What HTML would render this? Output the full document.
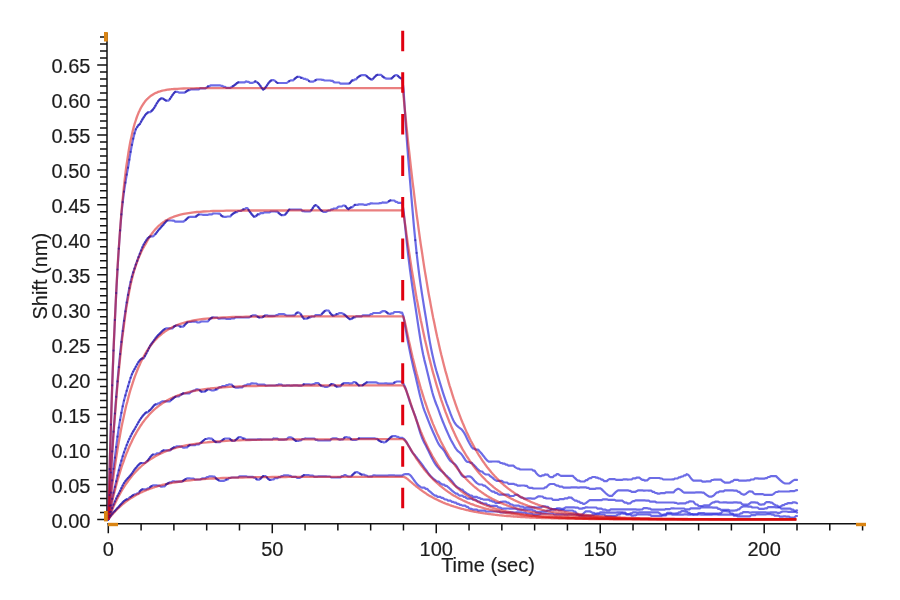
<!DOCTYPE html>
<html><head><meta charset="utf-8"><style>
html,body{margin:0;padding:0;background:#fff;width:900px;height:600px;overflow:hidden}
svg{display:block;filter:blur(0.4px)}
.d path{fill:none;stroke:rgba(45,45,220,0.7);stroke-width:2.2;stroke-linejoin:round;stroke-linecap:round}
.dots path{fill:none;stroke:rgba(20,10,150,0.55);stroke-width:2.2;stroke-linecap:round}
.f path{fill:none;stroke:rgba(215,10,10,0.52);stroke-width:2.3;stroke-linejoin:round}
.ax{fill:none;stroke:#111;stroke-width:1.5}
.lab text{font-family:"Liberation Sans",Arial,sans-serif;font-size:20px;fill:#1c1c1c;stroke:#1c1c1c;stroke-width:0.18px}
</style></head><body>
<svg width="900" height="600" viewBox="0 0 900 600">
<rect width="900" height="600" fill="#fff"/>
<path class="ax" d="M97.2,519.40H107 M100.0,512.41H107 M100.0,505.42H107 M100.0,498.43H107 M100.0,491.44H107 M97.2,484.45H107 M100.0,477.46H107 M100.0,470.47H107 M100.0,463.48H107 M100.0,456.49H107 M97.2,449.50H107 M100.0,442.51H107 M100.0,435.52H107 M100.0,428.53H107 M100.0,421.54H107 M97.2,414.55H107 M100.0,407.56H107 M100.0,400.57H107 M100.0,393.58H107 M100.0,386.59H107 M97.2,379.60H107 M100.0,372.61H107 M100.0,365.62H107 M100.0,358.63H107 M100.0,351.64H107 M97.2,344.65H107 M100.0,337.66H107 M100.0,330.67H107 M100.0,323.68H107 M100.0,316.69H107 M97.2,309.70H107 M100.0,302.71H107 M100.0,295.72H107 M100.0,288.73H107 M100.0,281.74H107 M97.2,274.75H107 M100.0,267.76H107 M100.0,260.77H107 M100.0,253.78H107 M100.0,246.79H107 M97.2,239.80H107 M100.0,232.81H107 M100.0,225.82H107 M100.0,218.83H107 M100.0,211.84H107 M97.2,204.85H107 M100.0,197.86H107 M100.0,190.87H107 M100.0,183.88H107 M100.0,176.89H107 M97.2,169.90H107 M100.0,162.91H107 M100.0,155.92H107 M100.0,148.93H107 M100.0,141.94H107 M97.2,134.95H107 M100.0,127.96H107 M100.0,120.97H107 M100.0,113.98H107 M100.0,106.99H107 M97.2,100.00H107 M100.0,93.01H107 M100.0,86.02H107 M100.0,79.03H107 M100.0,72.04H107 M97.2,65.05H107 M100.0,58.06H107 M100.0,51.07H107 M100.0,44.08H107 M100.0,37.09H107 M108.30,523.8V533.2 M141.09,523.8V530.6 M173.89,523.8V530.6 M206.69,523.8V530.6 M239.48,523.8V530.6 M272.27,523.8V533.2 M305.07,523.8V530.6 M337.87,523.8V530.6 M370.66,523.8V530.6 M403.46,523.8V530.6 M436.25,523.8V533.2 M469.05,523.8V530.6 M501.84,523.8V530.6 M534.63,523.8V530.6 M567.43,523.8V530.6 M600.23,523.8V533.2 M633.02,523.8V530.6 M665.81,523.8V530.6 M698.61,523.8V530.6 M731.40,523.8V530.6 M764.20,523.8V533.2 M797.00,523.8V530.6 M829.79,523.8V530.6 M862.58,523.8V530.6 M107,33V521 M107.3,523.8H857"/>
<g class="lab">
<text x="90.4" y="527.60" text-anchor="end">0.00</text>
<text x="90.4" y="492.65" text-anchor="end">0.05</text>
<text x="90.4" y="457.70" text-anchor="end">0.10</text>
<text x="90.4" y="422.75" text-anchor="end">0.15</text>
<text x="90.4" y="387.80" text-anchor="end">0.20</text>
<text x="90.4" y="352.85" text-anchor="end">0.25</text>
<text x="90.4" y="317.90" text-anchor="end">0.30</text>
<text x="90.4" y="282.95" text-anchor="end">0.35</text>
<text x="90.4" y="248.00" text-anchor="end">0.40</text>
<text x="90.4" y="213.05" text-anchor="end">0.45</text>
<text x="90.4" y="178.10" text-anchor="end">0.50</text>
<text x="90.4" y="143.15" text-anchor="end">0.55</text>
<text x="90.4" y="108.20" text-anchor="end">0.60</text>
<text x="90.4" y="73.25" text-anchor="end">0.65</text>
<text x="108.30" y="556.2" text-anchor="middle">0</text>
<text x="272.27" y="556.2" text-anchor="middle">50</text>
<text x="436.25" y="556.2" text-anchor="middle">100</text>
<text x="600.23" y="556.2" text-anchor="middle">150</text>
<text x="764.20" y="556.2" text-anchor="middle">200</text>
<text x="488" y="571.7" text-anchor="middle">Time (sec)</text>
<text transform="translate(46.7,276.2) rotate(-90)" text-anchor="middle">Shift (nm)</text>
</g>
<g class="d">
<path d="M108.3,519.4 L109.6,469.1 L110.9,424.6 L112.2,385.3 L113.5,350.6 L114.9,320.0 L116.2,293.1 L117.5,269.5 L118.8,248.7 L120.1,230.4 L121.4,214.4 L122.7,202.2 L124.0,191.7 L125.4,182.7 L126.7,174.7 L128.0,167.7 L129.3,159.7 L130.6,151.9 L131.9,144.9 L133.2,138.7 L134.5,133.4 L135.8,129.3 L137.2,127.0 L138.5,125.2 L139.8,124.1 L141.1,121.7 L142.4,119.4 L143.7,117.4 L145.0,115.4 L146.3,113.8 L147.7,112.6 L149.0,112.1 L150.3,112.1 L151.6,110.9 L152.9,109.6 L154.2,107.8 L155.5,105.7 L156.8,103.3 L158.1,101.3 L159.5,99.7 L160.8,98.7 L162.1,98.1 L163.4,98.9 L164.7,99.8 L166.0,100.6 L168.6,100.6 L170.0,98.8 L171.3,96.8 L172.6,94.9 L173.9,93.2 L175.2,91.8 L177.8,91.8 L179.1,92.7 L184.4,92.7 L185.7,91.9 L187.0,91.0 L188.3,90.2 L189.6,90.2 L190.9,89.3 L198.8,89.3 L200.1,88.4 L205.4,88.4 L206.7,87.5 L208.0,86.4 L209.3,86.4 L210.6,85.3 L219.8,85.3 L221.1,85.8 L222.4,85.8 L223.7,86.9 L225.1,86.9 L226.4,87.9 L230.3,87.9 L231.6,87.0 L232.9,86.2 L234.2,85.4 L235.5,84.4 L236.9,83.2 L238.2,82.4 L244.7,82.4 L246.0,81.4 L247.4,81.8 L248.7,81.8 L250.0,82.9 L252.6,82.9 L253.9,82.2 L255.2,81.4 L256.5,81.9 L257.8,82.8 L259.2,84.3 L260.5,86.1 L261.8,88.1 L263.1,89.6 L264.4,88.8 L265.7,87.2 L267.0,85.3 L268.3,83.4 L269.7,81.7 L271.0,80.6 L272.3,80.1 L273.6,80.1 L274.9,80.8 L276.2,82.0 L277.5,83.0 L286.7,83.0 L288.0,82.0 L289.3,81.1 L290.6,80.4 L293.3,80.4 L294.6,78.9 L295.9,77.8 L297.2,76.9 L299.8,76.9 L301.1,77.8 L302.4,77.8 L303.8,78.8 L305.1,78.8 L306.4,79.6 L307.7,79.6 L309.0,81.1 L310.3,81.7 L312.9,81.7 L314.3,81.0 L315.6,80.2 L316.9,79.5 L320.8,79.5 L322.1,79.9 L323.4,79.9 L324.7,80.5 L326.1,80.5 L330.0,80.5 L331.3,80.9 L332.6,80.9 L333.9,82.1 L335.2,82.5 L339.2,82.5 L340.5,83.7 L348.4,83.7 L349.7,83.2 L351.0,81.7 L352.3,80.4 L353.6,80.4 L354.9,79.3 L356.2,79.3 L357.5,77.6 L358.9,76.6 L360.2,75.8 L361.5,75.2 L365.4,75.2 L366.7,76.2 L368.0,77.3 L369.3,78.3 L370.7,79.2 L372.0,79.7 L373.3,78.5 L374.6,77.0 L375.9,75.7 L377.2,74.9 L381.2,74.9 L382.5,76.4 L383.8,77.3 L385.1,78.1 L386.4,78.6 L390.3,78.6 L391.6,78.4 L393.0,77.1 L394.3,75.9 L395.6,75.1 L396.9,75.1 L398.2,76.2 L399.5,77.4 L400.8,78.3 L402.1,78.7 L403.5,88.6 L404.8,109.6 L406.1,129.3 L407.4,147.6 L408.7,164.5 L410.0,180.4 L411.3,195.8 L412.6,211.2 L413.9,226.2 L415.3,240.2 L416.6,252.9 L417.9,264.2 L419.2,274.5 L420.5,283.9 L421.8,292.6 L423.1,300.9 L424.4,309.0 L425.8,317.2 L427.1,325.4 L428.4,333.5 L429.7,341.1 L431.0,348.0 L432.3,354.3 L433.6,360.1 L434.9,365.4 L436.2,370.3 L437.6,374.9 L438.9,379.2 L440.2,383.6 L441.5,387.9 L442.8,392.1 L444.1,396.1 L445.4,399.9 L446.7,403.6 L448.1,407.2 L449.4,410.7 L450.7,414.2 L452.0,417.4 L453.3,420.3 L454.6,422.7 L455.9,424.5 L457.2,425.9 L458.6,427.1 L459.9,428.1 L461.2,429.1 L462.5,430.5 L463.8,432.3 L465.1,434.6 L466.4,437.3 L467.7,439.9 L469.0,442.5 L470.4,445.0 L471.7,447.1 L473.0,448.6 L474.3,448.6 L475.6,449.7 L478.2,449.7 L479.5,451.3 L480.9,452.7 L482.2,454.3 L483.5,456.0 L484.8,457.7 L486.1,459.3 L487.4,460.7 L488.7,461.6 L491.3,461.6 L492.7,461.5 L496.6,461.5 L497.9,461.7 L499.2,461.7 L500.5,463.0 L501.8,463.0 L503.2,463.7 L504.5,463.7 L505.8,464.7 L507.1,464.7 L508.4,465.7 L513.6,465.7 L515.0,467.1 L516.3,467.9 L517.6,468.6 L518.9,468.6 L520.2,469.5 L532.0,469.5 L533.3,470.6 L534.6,470.6 L535.9,472.7 L537.3,474.2 L538.6,475.5 L539.9,476.1 L541.2,476.1 L542.5,475.3 L543.8,475.3 L545.1,474.4 L546.4,474.7 L547.8,474.7 L549.1,476.4 L550.4,477.1 L553.0,477.1 L554.3,475.5 L555.6,475.5 L556.9,474.1 L558.2,474.1 L559.6,475.1 L560.9,475.8 L572.7,475.8 L574.0,477.2 L575.3,478.4 L576.6,479.6 L577.9,480.6 L579.2,480.6 L580.5,481.5 L581.9,481.5 L584.5,481.5 L585.8,480.2 L587.1,480.2 L588.4,478.9 L589.7,478.2 L591.0,478.2 L592.4,477.0 L595.0,477.0 L596.3,477.7 L597.6,477.7 L598.9,478.5 L600.2,478.5 L601.5,479.7 L602.8,479.7 L604.2,481.1 L606.8,481.1 L608.1,479.9 L609.4,479.1 L614.7,479.1 L616.0,479.8 L622.5,479.8 L623.8,479.3 L626.5,479.3 L627.8,479.6 L629.1,479.5 L631.7,479.5 L633.0,478.3 L635.6,478.3 L637.0,477.5 L638.3,477.7 L639.6,477.7 L640.9,479.0 L642.2,479.8 L643.5,479.8 L644.8,480.6 L646.1,480.4 L647.4,480.4 L648.8,478.8 L650.1,478.0 L659.3,478.0 L660.6,478.5 L661.9,478.5 L663.2,479.5 L671.1,479.5 L672.4,479.4 L673.7,479.4 L675.0,478.5 L677.6,478.5 L678.9,477.3 L680.2,477.3 L681.6,476.5 L682.9,476.5 L684.2,475.3 L685.5,475.3 L686.8,474.2 L688.1,474.7 L689.4,476.1 L690.7,478.0 L692.1,479.6 L693.4,480.6 L701.2,480.6 L702.5,481.7 L705.2,481.7 L706.5,481.4 L710.4,481.4 L711.7,480.0 L713.0,480.0 L714.4,479.5 L715.7,479.6 L720.9,479.6 L722.2,480.9 L723.5,481.7 L724.8,482.6 L728.8,482.6 L730.1,482.4 L731.4,481.4 L732.7,481.4 L734.0,479.9 L738.0,479.9 L739.3,480.7 L745.8,480.7 L747.1,480.4 L749.8,480.4 L751.1,479.5 L753.7,479.5 L755.0,478.3 L757.6,478.3 L759.0,478.6 L764.2,478.6 L765.5,478.2 L766.8,478.2 L768.1,477.0 L769.4,477.0 L770.8,476.1 L776.0,476.1 L777.3,477.4 L778.6,478.6 L779.9,479.9 L781.3,481.1 L782.6,482.2 L783.9,482.9 L785.2,483.5 L789.1,483.5 L790.4,482.8 L791.7,481.6 L793.1,480.6 L794.4,479.9 L795.7,479.9 L797.0,479.9"/>
<path d="M108.3,519.4 L109.6,495.1 L110.9,472.5 L112.2,451.4 L113.5,431.7 L114.9,413.5 L116.2,396.8 L117.5,381.4 L118.8,367.2 L120.1,354.1 L121.4,341.9 L122.7,331.0 L124.0,320.8 L125.4,311.3 L126.7,302.5 L128.0,294.9 L129.3,288.2 L130.6,282.0 L131.9,276.8 L133.2,272.4 L134.5,268.5 L135.8,264.6 L137.2,260.9 L138.5,257.2 L139.8,253.8 L141.1,250.5 L142.4,247.3 L143.7,244.6 L145.0,242.3 L146.3,240.4 L147.7,238.4 L149.0,237.2 L150.3,236.4 L152.9,236.4 L154.2,235.3 L155.5,234.0 L156.8,232.3 L158.1,230.6 L159.5,229.0 L160.8,227.5 L162.1,226.1 L163.4,224.7 L164.7,223.0 L166.0,221.6 L167.3,220.5 L171.3,220.5 L172.6,220.6 L173.9,220.6 L175.2,221.7 L183.1,221.7 L184.4,221.0 L185.7,219.9 L187.0,218.7 L188.3,217.5 L189.6,216.9 L194.9,216.9 L196.2,216.4 L197.5,215.3 L198.8,214.5 L201.4,214.5 L202.7,214.8 L208.0,214.8 L209.3,214.4 L211.9,214.4 L213.2,213.5 L217.2,213.5 L218.5,213.7 L219.8,213.7 L221.1,215.4 L222.4,216.3 L223.7,216.8 L226.4,216.8 L227.7,216.5 L230.3,216.5 L231.6,214.8 L232.9,213.8 L234.2,213.0 L235.5,212.2 L236.9,212.2 L238.2,211.0 L240.8,211.0 L242.1,210.1 L243.4,209.3 L244.7,209.3 L246.0,208.1 L247.4,208.1 L248.7,210.2 L250.0,212.0 L251.3,213.7 L252.6,215.3 L253.9,216.6 L255.2,216.6 L256.5,215.7 L257.8,214.3 L259.2,214.3 L260.5,213.2 L263.1,213.2 L264.4,212.3 L269.7,212.3 L271.0,211.5 L274.9,211.5 L276.2,211.6 L277.5,211.6 L278.8,213.2 L280.1,214.2 L281.5,215.1 L284.1,215.1 L285.4,214.4 L286.7,212.8 L288.0,211.0 L289.3,209.5 L295.9,209.5 L297.2,209.5 L301.1,209.5 L302.4,211.1 L303.8,211.1 L305.1,211.5 L306.4,211.5 L307.7,211.5 L309.0,211.5 L310.3,211.4 L311.6,209.8 L312.9,207.9 L314.3,205.9 L315.6,205.2 L316.9,205.8 L318.2,207.0 L319.5,208.6 L320.8,210.1 L322.1,211.1 L323.4,211.8 L326.1,211.8 L327.4,211.0 L328.7,210.5 L330.0,210.5 L331.3,209.4 L332.6,209.4 L333.9,208.5 L336.6,208.5 L337.9,207.1 L339.2,206.5 L341.8,206.5 L343.1,205.5 L344.4,205.5 L345.7,206.4 L347.0,208.1 L348.4,209.2 L349.7,208.2 L351.0,207.3 L352.3,207.3 L353.6,205.9 L354.9,204.9 L357.5,204.9 L358.9,204.4 L362.8,204.4 L364.1,204.8 L366.7,204.8 L368.0,204.2 L369.3,204.2 L370.7,203.3 L372.0,203.3 L373.3,203.5 L378.5,203.5 L379.8,203.1 L381.2,203.1 L382.5,202.4 L383.8,202.6 L386.4,202.6 L387.7,202.2 L389.0,201.2 L390.3,200.4 L391.6,200.5 L394.3,200.5 L395.6,201.8 L396.9,201.8 L398.2,202.8 L402.1,202.8 L403.5,209.9 L404.8,223.2 L406.1,235.9 L407.4,248.1 L408.7,259.4 L410.0,269.8 L411.3,279.4 L412.6,288.3 L413.9,297.2 L415.3,306.0 L416.6,314.7 L417.9,323.4 L419.2,331.9 L420.5,340.1 L421.8,347.6 L423.1,354.2 L424.4,360.1 L425.8,365.5 L427.1,370.9 L428.4,376.2 L429.7,381.7 L431.0,387.1 L432.3,392.2 L433.6,396.7 L434.9,400.5 L436.2,404.0 L437.6,407.4 L438.9,411.0 L440.2,414.7 L441.5,418.2 L442.8,421.5 L444.1,424.7 L445.4,427.8 L446.7,430.8 L448.1,433.9 L449.4,436.7 L450.7,439.4 L452.0,441.9 L453.3,444.2 L454.6,446.6 L455.9,448.7 L457.2,450.4 L458.6,451.7 L459.9,452.7 L461.2,453.9 L462.5,455.6 L463.8,457.7 L465.1,459.7 L466.4,461.2 L467.7,462.0 L469.0,462.0 L470.4,462.8 L471.7,462.8 L473.0,464.2 L474.3,465.4 L475.6,466.8 L476.9,468.2 L478.2,469.5 L479.5,470.6 L480.9,471.5 L482.2,471.5 L483.5,473.1 L484.8,473.9 L486.1,474.5 L488.7,474.5 L490.0,476.0 L491.3,476.8 L492.7,477.9 L494.0,479.1 L495.3,480.1 L496.6,480.8 L501.8,480.8 L503.2,481.9 L504.5,482.5 L507.1,482.5 L508.4,483.8 L513.6,483.8 L515.0,484.6 L516.3,484.6 L517.6,485.6 L520.2,485.6 L521.5,485.5 L524.1,485.5 L525.5,485.8 L526.8,485.8 L528.1,487.2 L529.4,487.8 L532.0,487.8 L533.3,488.5 L534.6,488.5 L535.9,488.5 L543.8,488.5 L545.1,487.3 L546.4,487.3 L547.8,485.6 L549.1,484.6 L550.4,484.0 L554.3,484.0 L555.6,485.1 L556.9,485.7 L558.2,485.7 L559.6,486.7 L562.2,486.7 L563.5,487.6 L570.1,487.6 L571.4,487.4 L576.6,487.4 L577.9,487.6 L579.2,487.6 L580.5,487.3 L585.8,487.3 L587.1,487.9 L588.4,487.9 L589.7,488.9 L595.0,488.9 L596.3,488.3 L600.2,488.3 L601.5,489.1 L602.8,490.4 L604.2,491.7 L605.5,493.0 L606.8,494.2 L608.1,495.2 L609.4,495.9 L612.0,495.9 L613.3,494.5 L614.7,493.1 L616.0,491.8 L617.3,490.8 L618.6,490.3 L627.8,490.3 L629.1,490.8 L630.4,490.8 L631.7,491.8 L635.6,491.8 L637.0,490.9 L638.3,490.3 L642.2,490.3 L643.5,490.6 L644.8,490.6 L646.1,490.5 L647.4,490.5 L648.8,490.7 L651.4,490.7 L652.7,491.9 L654.0,491.9 L655.3,493.0 L656.6,493.0 L657.9,493.7 L659.3,493.7 L660.6,493.2 L664.5,493.2 L665.8,492.4 L673.7,492.4 L675.0,490.7 L676.3,489.7 L677.6,488.9 L678.9,488.9 L680.2,489.6 L681.6,490.7 L682.9,491.8 L684.2,492.7 L694.7,492.7 L696.0,492.3 L701.2,492.3 L702.5,492.7 L703.9,492.7 L705.2,494.0 L706.5,494.9 L707.8,495.8 L709.1,496.6 L711.7,496.6 L713.0,496.0 L714.4,494.8 L715.7,493.4 L717.0,492.4 L718.3,492.4 L719.6,491.4 L723.5,491.4 L724.8,490.3 L732.7,490.3 L734.0,490.6 L736.7,490.6 L738.0,491.8 L739.3,491.8 L740.6,493.2 L741.9,494.0 L743.2,494.6 L744.5,494.6 L745.8,494.0 L747.1,492.8 L748.5,491.8 L749.8,491.3 L751.1,491.6 L752.4,491.6 L753.7,493.4 L755.0,494.1 L762.9,494.1 L764.2,494.8 L772.1,494.8 L773.4,494.1 L774.7,493.0 L776.0,492.0 L777.3,492.0 L778.6,491.4 L779.9,491.5 L789.1,491.5 L790.4,491.1 L794.4,491.1 L795.7,490.4 L797.0,490.2"/>
<path d="M108.3,519.4 L109.6,505.7 L110.9,492.7 L112.2,480.4 L113.5,468.8 L114.9,457.7 L116.2,447.0 L117.5,436.7 L118.8,427.6 L120.1,419.9 L121.4,412.8 L122.7,406.3 L124.0,400.5 L125.4,395.4 L126.7,390.8 L128.0,386.4 L129.3,382.1 L130.6,377.8 L131.9,374.3 L133.2,371.6 L134.5,369.2 L135.8,366.8 L137.2,364.3 L138.5,362.0 L139.8,360.3 L141.1,359.1 L142.4,358.3 L143.7,358.3 L145.0,355.9 L146.3,353.5 L147.7,350.8 L149.0,348.1 L150.3,345.6 L151.6,343.6 L152.9,341.8 L154.2,340.1 L155.5,338.3 L156.8,336.7 L158.1,335.2 L159.5,333.9 L160.8,332.6 L162.1,331.3 L163.4,330.1 L164.7,329.1 L166.0,328.4 L172.6,328.4 L173.9,326.7 L175.2,325.9 L176.5,325.3 L177.8,325.3 L179.1,325.9 L180.4,326.7 L183.1,326.7 L184.4,325.4 L185.7,323.9 L187.0,322.7 L188.3,322.0 L190.9,322.0 L192.3,321.5 L193.6,321.6 L196.2,321.6 L197.5,322.5 L198.8,322.5 L200.1,322.1 L201.4,321.5 L208.0,321.5 L209.3,319.6 L210.6,318.5 L211.9,317.7 L213.2,317.4 L214.6,317.5 L217.2,317.5 L218.5,318.7 L219.8,318.7 L221.1,318.3 L225.1,318.3 L226.4,318.9 L230.3,318.9 L231.6,318.3 L234.2,318.3 L235.5,317.4 L240.8,317.4 L242.1,317.5 L248.7,317.5 L250.0,316.9 L251.3,316.1 L252.6,315.4 L255.2,315.4 L256.5,315.9 L257.8,316.8 L259.2,317.5 L261.8,317.5 L263.1,316.8 L264.4,315.9 L265.7,315.4 L267.0,315.4 L268.3,315.9 L274.9,315.9 L276.2,315.2 L277.5,315.2 L278.8,314.2 L284.1,314.2 L285.4,315.0 L286.7,315.5 L292.0,315.5 L293.3,315.3 L294.6,315.3 L295.9,313.6 L297.2,312.7 L298.5,312.4 L299.8,313.1 L301.1,314.7 L302.4,316.8 L303.8,318.6 L306.4,318.6 L307.7,318.2 L309.0,317.4 L310.3,317.4 L311.6,316.5 L314.3,316.5 L315.6,315.1 L320.8,315.1 L322.1,313.7 L323.4,312.4 L324.7,311.1 L326.1,310.4 L327.4,310.5 L328.7,310.5 L330.0,312.8 L331.3,314.3 L332.6,315.4 L333.9,315.7 L335.2,315.1 L336.6,314.2 L337.9,314.2 L339.2,313.1 L341.8,313.1 L343.1,313.8 L344.4,314.7 L345.7,315.7 L347.0,316.9 L348.4,318.2 L349.7,319.1 L351.0,319.1 L352.3,318.4 L353.6,317.3 L354.9,317.3 L356.2,316.3 L361.5,316.3 L362.8,315.3 L369.3,315.3 L370.7,314.2 L372.0,314.2 L373.3,313.0 L379.8,313.0 L381.2,312.0 L382.5,311.2 L385.1,311.2 L386.4,312.1 L387.7,313.2 L389.0,313.9 L390.3,313.9 L391.6,313.4 L393.0,313.4 L394.3,312.0 L399.5,312.0 L400.8,312.7 L402.1,312.7 L403.5,316.5 L404.8,324.2 L406.1,331.6 L407.4,338.7 L408.7,345.6 L410.0,352.1 L411.3,358.2 L412.6,364.0 L413.9,369.7 L415.3,375.3 L416.6,381.0 L417.9,386.6 L419.2,392.2 L420.5,397.5 L421.8,402.3 L423.1,406.8 L424.4,410.7 L425.8,414.2 L427.1,417.5 L428.4,420.8 L429.7,424.1 L431.0,427.3 L432.3,430.3 L433.6,433.2 L434.9,436.0 L436.2,439.0 L437.6,441.9 L438.9,444.4 L440.2,446.3 L441.5,447.7 L442.8,449.1 L444.1,450.8 L445.4,453.0 L446.7,455.4 L448.1,457.8 L449.4,459.7 L450.7,461.2 L452.0,462.2 L453.3,463.1 L454.6,464.0 L455.9,465.3 L457.2,467.2 L458.6,469.7 L459.9,472.2 L461.2,474.5 L462.5,476.0 L463.8,476.8 L466.4,476.8 L467.7,476.3 L469.0,476.3 L470.4,476.6 L471.7,477.6 L473.0,479.0 L474.3,480.5 L475.6,481.9 L476.9,483.1 L478.2,483.9 L479.5,484.5 L482.2,484.5 L483.5,485.6 L484.8,485.6 L486.1,486.8 L487.4,487.7 L488.7,488.9 L490.0,490.0 L491.3,491.0 L492.7,491.7 L494.0,491.7 L495.3,492.8 L496.6,492.8 L497.9,494.0 L499.2,494.6 L508.4,494.6 L509.7,496.0 L513.6,496.0 L515.0,494.9 L517.6,494.9 L518.9,496.0 L520.2,496.9 L521.5,497.7 L522.8,497.7 L524.1,498.6 L526.8,498.6 L528.1,498.4 L530.7,498.4 L532.0,498.6 L534.6,498.6 L535.9,497.9 L537.3,497.0 L538.6,496.3 L539.9,496.3 L541.2,496.5 L542.5,496.5 L543.8,497.8 L545.1,497.8 L546.4,498.5 L551.7,498.5 L553.0,499.9 L558.2,499.9 L559.6,499.2 L563.5,499.2 L564.8,498.4 L567.4,498.4 L568.7,497.4 L570.1,497.6 L571.4,497.6 L572.7,498.9 L574.0,499.9 L575.3,500.7 L576.6,500.7 L577.9,501.7 L579.2,501.7 L580.5,502.8 L581.9,502.8 L583.2,503.8 L584.5,503.8 L585.8,503.1 L587.1,502.1 L588.4,501.1 L589.7,500.2 L601.5,500.2 L602.8,499.4 L606.8,499.4 L608.1,499.8 L614.7,499.8 L616.0,500.7 L622.5,500.7 L623.8,502.0 L625.1,502.7 L626.5,502.7 L627.8,503.6 L629.1,503.4 L630.4,503.4 L631.7,501.9 L633.0,501.2 L634.3,501.2 L635.6,500.3 L644.8,500.3 L646.1,500.7 L648.8,500.7 L650.1,501.7 L655.3,501.7 L656.6,502.5 L665.8,502.5 L667.1,502.5 L673.7,502.5 L675.0,502.9 L676.3,502.9 L677.6,503.6 L678.9,503.6 L680.2,503.3 L685.5,503.3 L686.8,502.4 L688.1,502.4 L689.4,501.3 L690.7,501.3 L692.1,501.5 L693.4,501.5 L694.7,503.4 L696.0,504.5 L697.3,504.5 L698.6,506.0 L702.5,506.0 L703.9,505.4 L709.1,505.4 L710.4,504.2 L711.7,503.2 L713.0,502.3 L714.4,502.3 L715.7,501.5 L717.0,501.6 L718.3,501.6 L719.6,502.5 L722.2,502.5 L723.5,502.4 L726.2,502.4 L727.5,502.6 L732.7,502.6 L734.0,502.4 L736.7,502.4 L738.0,502.6 L740.6,502.6 L741.9,504.0 L743.2,504.6 L747.1,504.6 L748.5,504.4 L749.8,503.4 L751.1,502.4 L755.0,502.4 L756.3,502.7 L757.6,502.7 L759.0,504.1 L760.3,504.6 L761.6,504.6 L762.9,504.3 L764.2,504.3 L765.5,502.7 L766.8,502.1 L769.4,502.1 L770.8,502.7 L772.1,502.7 L773.4,503.9 L774.7,504.7 L776.0,505.7 L777.3,505.7 L778.6,506.8 L779.9,506.8 L781.3,506.0 L782.6,505.2 L783.9,505.2 L785.2,504.0 L786.5,504.0 L787.8,503.2 L791.7,503.2 L793.1,502.3 L794.4,502.3 L795.7,502.6 L797.0,503.2"/>
<path d="M108.3,519.4 L109.6,512.1 L110.9,505.3 L112.2,498.8 L113.5,492.7 L114.9,486.9 L116.2,481.3 L117.5,475.6 L118.8,470.3 L120.1,465.3 L121.4,460.7 L122.7,456.3 L124.0,452.3 L125.4,448.6 L126.7,445.1 L128.0,441.8 L129.3,439.0 L130.6,436.3 L131.9,433.7 L133.2,431.4 L134.5,429.3 L135.8,427.0 L137.2,424.5 L138.5,422.2 L139.8,420.0 L141.1,418.2 L142.4,416.4 L143.7,414.8 L145.0,413.4 L146.3,412.4 L147.7,412.4 L149.0,410.9 L150.3,409.9 L151.6,408.4 L152.9,406.8 L154.2,405.3 L155.5,404.3 L156.8,404.3 L158.1,403.4 L159.5,403.4 L160.8,402.1 L162.1,401.4 L170.0,401.4 L171.3,399.9 L172.6,398.9 L173.9,397.8 L175.2,396.9 L176.5,396.3 L179.1,396.3 L180.4,395.0 L181.8,394.2 L183.1,393.4 L189.6,393.4 L190.9,391.9 L192.3,391.2 L193.6,390.5 L194.9,390.5 L196.2,389.3 L197.5,389.3 L198.8,389.7 L200.1,390.7 L201.4,391.7 L204.1,391.7 L205.4,391.2 L206.7,390.2 L208.0,389.5 L209.3,389.5 L210.6,390.0 L211.9,390.5 L213.2,390.5 L214.6,390.1 L215.9,389.4 L217.2,389.4 L218.5,387.8 L219.8,387.2 L221.1,387.2 L222.4,386.1 L225.1,386.1 L226.4,385.1 L227.7,385.1 L229.0,384.4 L230.3,384.5 L231.6,384.5 L232.9,386.1 L234.2,387.0 L235.5,387.6 L238.2,387.6 L239.5,387.4 L242.1,387.4 L243.4,386.0 L244.7,385.4 L246.0,385.4 L247.4,384.4 L250.0,384.4 L251.3,383.3 L252.6,383.3 L253.9,383.5 L256.5,383.5 L257.8,384.6 L264.4,384.6 L265.7,385.5 L274.9,385.5 L276.2,385.2 L277.5,385.2 L278.8,384.4 L280.1,384.7 L281.5,384.7 L282.8,385.7 L285.4,385.7 L286.7,385.4 L289.3,385.4 L290.6,385.7 L292.0,385.7 L293.3,385.4 L297.2,385.4 L298.5,385.6 L301.1,385.6 L302.4,385.2 L303.8,384.3 L309.0,384.3 L310.3,384.6 L311.6,384.6 L312.9,384.2 L314.3,384.2 L315.6,383.1 L318.2,383.1 L319.5,384.5 L320.8,385.5 L322.1,386.1 L323.4,386.1 L324.7,386.8 L327.4,386.8 L328.7,386.3 L330.0,385.1 L331.3,384.1 L332.6,384.1 L333.9,384.6 L335.2,385.7 L336.6,386.6 L337.9,386.6 L339.2,386.4 L340.5,386.4 L341.8,384.5 L343.1,383.7 L344.4,383.1 L348.4,383.1 L349.7,383.6 L351.0,383.3 L352.3,383.3 L353.6,382.1 L354.9,382.1 L356.2,382.9 L357.5,384.2 L358.9,385.5 L361.5,385.5 L362.8,385.2 L364.1,384.2 L365.4,383.3 L366.7,382.4 L375.9,382.4 L377.2,382.8 L378.5,383.5 L383.8,383.5 L385.1,383.4 L386.4,383.4 L387.7,383.6 L393.0,383.6 L394.3,382.7 L395.6,382.0 L396.9,381.5 L399.5,381.5 L400.8,381.6 L402.1,381.6 L403.5,384.1 L404.8,386.5 L406.1,390.0 L407.4,394.0 L408.7,398.2 L410.0,402.3 L411.3,406.0 L412.6,409.4 L413.9,412.8 L415.3,416.4 L416.6,420.4 L417.9,424.9 L419.2,429.4 L420.5,433.6 L421.8,437.2 L423.1,440.2 L424.4,443.0 L425.8,445.6 L427.1,448.2 L428.4,450.8 L429.7,453.5 L431.0,456.2 L432.3,458.8 L433.6,461.2 L434.9,463.4 L436.2,465.3 L437.6,467.1 L438.9,468.6 L440.2,469.9 L441.5,471.1 L442.8,472.2 L444.1,473.4 L445.4,474.7 L446.7,475.9 L448.1,477.2 L449.4,478.4 L450.7,479.7 L452.0,481.2 L453.3,482.9 L454.6,484.6 L455.9,486.1 L457.2,487.2 L458.6,488.0 L459.9,488.8 L461.2,489.6 L462.5,489.6 L463.8,491.4 L465.1,492.2 L466.4,493.1 L467.7,493.9 L469.0,494.7 L470.4,495.6 L471.7,495.6 L473.0,496.9 L476.9,496.9 L478.2,497.8 L479.5,497.8 L480.9,498.9 L482.2,498.9 L483.5,499.6 L488.7,499.6 L490.0,500.7 L491.3,500.7 L492.7,501.6 L494.0,501.6 L495.3,502.8 L499.2,502.8 L500.5,501.9 L501.8,501.9 L503.2,501.5 L504.5,501.7 L505.8,501.7 L507.1,502.6 L508.4,502.6 L509.7,503.8 L511.0,504.5 L512.3,504.5 L513.6,505.6 L518.9,505.6 L520.2,506.6 L522.8,506.6 L524.1,507.6 L525.5,507.6 L526.8,507.3 L534.6,507.3 L535.9,507.5 L537.3,507.5 L538.6,507.4 L541.2,507.4 L542.5,506.4 L545.1,506.4 L546.4,506.8 L547.8,506.8 L549.1,508.1 L550.4,508.9 L551.7,508.9 L553.0,509.6 L554.3,509.4 L555.6,509.4 L556.9,508.3 L559.6,508.3 L560.9,508.8 L563.5,508.8 L564.8,508.0 L566.1,507.3 L574.0,507.3 L575.3,507.6 L577.9,507.6 L579.2,508.6 L581.9,508.6 L583.2,508.1 L584.5,508.1 L585.8,507.3 L587.1,507.3 L588.4,507.5 L596.3,507.5 L597.6,508.7 L601.5,508.7 L602.8,509.6 L605.5,509.6 L606.8,510.5 L608.1,510.4 L609.4,510.4 L610.7,509.4 L635.6,509.4 L637.0,509.6 L639.6,509.6 L640.9,509.5 L642.2,509.5 L643.5,508.2 L647.4,508.2 L648.8,508.6 L650.1,508.6 L651.4,509.7 L664.5,509.7 L665.8,509.1 L669.8,509.1 L671.1,508.4 L673.7,508.4 L675.0,508.5 L684.2,508.5 L685.5,509.6 L686.8,509.4 L689.4,509.4 L690.7,508.3 L699.9,508.3 L701.2,507.4 L711.7,507.4 L713.0,507.6 L717.0,507.6 L718.3,508.9 L719.6,508.9 L720.9,509.9 L728.8,509.9 L730.1,510.7 L734.0,510.7 L735.3,510.4 L736.7,510.4 L738.0,509.4 L739.3,509.4 L740.6,507.7 L741.9,506.9 L743.2,506.4 L747.1,506.4 L748.5,506.7 L751.1,506.7 L752.4,507.5 L757.6,507.5 L759.0,508.8 L764.2,508.8 L765.5,508.3 L766.8,508.3 L768.1,507.2 L774.7,507.2 L776.0,507.5 L779.9,507.5 L781.3,508.6 L790.4,508.6 L791.7,509.7 L793.1,509.7 L794.4,510.8 L795.7,510.8 L797.0,510.3"/>
<path d="M108.3,519.4 L109.6,515.6 L110.9,511.8 L112.2,508.2 L113.5,504.7 L114.9,501.5 L116.2,498.6 L117.5,495.9 L118.8,493.5 L120.1,490.9 L121.4,488.2 L122.7,485.5 L124.0,483.1 L125.4,481.1 L126.7,479.5 L128.0,478.0 L129.3,476.7 L130.6,475.2 L131.9,473.5 L133.2,471.6 L134.5,469.7 L135.8,468.0 L137.2,466.4 L138.5,464.9 L139.8,463.7 L141.1,463.0 L145.0,463.0 L146.3,461.8 L147.7,460.5 L149.0,458.8 L150.3,457.1 L151.6,455.6 L152.9,454.5 L155.5,454.5 L156.8,453.4 L159.5,453.4 L160.8,452.0 L162.1,451.1 L163.4,450.4 L170.0,450.4 L171.3,449.1 L172.6,448.2 L173.9,447.4 L175.2,447.4 L176.5,446.3 L179.1,446.3 L180.4,446.6 L181.8,446.6 L183.1,447.6 L184.4,447.6 L185.7,447.4 L187.0,447.4 L188.3,446.0 L189.6,445.2 L194.9,445.2 L196.2,444.4 L198.8,444.4 L200.1,443.2 L201.4,442.4 L202.7,441.2 L204.1,440.0 L205.4,439.0 L206.7,439.0 L208.0,438.4 L209.3,438.4 L210.6,438.6 L211.9,438.6 L213.2,440.2 L214.6,441.3 L215.9,442.1 L219.8,442.1 L221.1,440.9 L222.4,440.1 L223.7,439.2 L225.1,438.5 L229.0,438.5 L230.3,439.3 L231.6,440.3 L232.9,441.0 L234.2,441.0 L235.5,440.1 L236.9,438.9 L238.2,437.7 L239.5,437.1 L240.8,437.1 L242.1,437.9 L243.4,438.7 L244.7,438.7 L246.0,439.7 L256.5,439.7 L257.8,439.3 L260.5,439.3 L261.8,439.6 L263.1,439.5 L272.3,439.5 L273.6,438.4 L274.9,438.7 L277.5,438.7 L278.8,439.6 L284.1,439.6 L285.4,439.3 L286.7,439.3 L288.0,437.9 L289.3,437.4 L290.6,437.4 L292.0,437.9 L293.3,438.9 L294.6,440.0 L295.9,440.9 L298.5,440.9 L299.8,440.3 L301.1,440.3 L302.4,439.0 L303.8,439.0 L305.1,438.4 L306.4,438.5 L314.3,438.5 L315.6,439.8 L316.9,439.8 L318.2,440.5 L323.4,440.5 L324.7,440.4 L330.0,440.4 L331.3,439.0 L332.6,438.4 L336.6,438.4 L337.9,439.0 L339.2,439.6 L340.5,439.6 L341.8,439.3 L343.1,439.3 L344.4,437.7 L345.7,437.2 L347.0,437.2 L348.4,437.7 L349.7,437.7 L351.0,439.2 L352.3,439.8 L356.2,439.8 L357.5,439.2 L358.9,438.4 L374.6,438.4 L375.9,438.8 L377.2,438.8 L378.5,440.2 L379.8,441.0 L381.2,441.8 L382.5,441.8 L383.8,442.5 L385.1,442.2 L386.4,441.3 L387.7,440.2 L389.0,438.9 L390.3,437.7 L391.6,436.7 L393.0,436.1 L395.6,436.1 L396.9,436.8 L398.2,436.8 L399.5,437.8 L402.1,437.8 L403.5,438.6 L404.8,439.8 L406.1,441.6 L407.4,443.7 L408.7,446.0 L410.0,448.3 L411.3,450.6 L412.6,452.6 L413.9,454.2 L415.3,455.8 L416.6,457.5 L417.9,459.2 L419.2,460.8 L420.5,462.5 L421.8,464.2 L423.1,466.0 L424.4,467.8 L425.8,469.7 L427.1,471.5 L428.4,473.4 L429.7,475.0 L431.0,476.5 L432.3,477.7 L433.6,478.9 L434.9,479.9 L436.2,480.9 L437.6,481.7 L438.9,481.7 L440.2,483.3 L441.5,484.0 L442.8,484.7 L444.1,484.7 L445.4,485.8 L446.7,485.8 L448.1,487.2 L449.4,488.2 L450.7,489.4 L452.0,490.6 L453.3,491.7 L454.6,492.7 L455.9,493.6 L457.2,493.6 L458.6,495.1 L459.9,495.7 L462.5,495.7 L463.8,496.9 L465.1,496.9 L466.4,498.1 L467.7,498.7 L471.7,498.7 L473.0,499.7 L475.6,499.7 L476.9,500.8 L478.2,501.5 L479.5,501.5 L480.9,502.9 L482.2,502.9 L483.5,503.6 L486.1,503.6 L487.4,505.0 L488.7,505.0 L490.0,505.8 L496.6,505.8 L497.9,507.0 L499.2,507.6 L500.5,507.6 L501.8,508.7 L505.8,508.7 L507.1,508.5 L508.4,508.5 L509.7,508.6 L516.3,508.6 L517.6,509.6 L532.0,509.6 L533.3,510.7 L534.6,510.7 L535.9,511.8 L541.2,511.8 L542.5,511.3 L546.4,511.3 L547.8,510.5 L550.4,510.5 L551.7,509.1 L556.9,509.1 L558.2,509.8 L563.5,509.8 L564.8,510.5 L572.7,510.5 L574.0,511.6 L575.3,511.6 L576.6,513.3 L577.9,514.2 L579.2,514.9 L581.9,514.9 L583.2,513.7 L584.5,512.5 L585.8,511.4 L589.7,511.4 L591.0,511.9 L592.4,512.8 L593.7,512.8 L595.0,513.6 L596.3,513.6 L597.6,513.3 L598.9,513.3 L600.2,512.4 L604.2,512.4 L605.5,512.6 L616.0,512.6 L617.3,512.4 L622.5,512.4 L623.8,512.6 L625.1,512.6 L626.5,514.1 L629.1,514.1 L630.4,513.4 L631.7,513.4 L633.0,512.4 L635.6,512.4 L637.0,512.6 L638.3,512.6 L639.6,512.3 L657.9,512.3 L659.3,513.1 L660.6,514.1 L661.9,514.8 L663.2,514.8 L664.5,514.4 L665.8,514.4 L667.1,512.9 L671.1,512.9 L672.4,513.5 L675.0,513.5 L676.3,513.4 L677.6,513.4 L678.9,512.3 L680.2,512.3 L681.6,511.2 L684.2,511.2 L685.5,511.6 L686.8,511.6 L688.1,512.8 L689.4,512.8 L690.7,514.0 L692.1,514.0 L693.4,514.7 L694.7,514.5 L697.3,514.5 L698.6,513.0 L703.9,513.0 L705.2,513.7 L718.3,513.7 L719.6,513.4 L720.9,513.4 L722.2,511.7 L723.5,511.1 L726.2,511.1 L727.5,511.5 L728.8,511.5 L730.1,512.8 L731.4,513.7 L732.7,513.7 L734.0,514.7 L735.3,514.7 L736.7,514.5 L739.3,514.5 L740.6,513.3 L741.9,513.3 L743.2,512.2 L748.5,512.2 L749.8,512.6 L751.1,512.6 L752.4,512.3 L765.5,512.3 L766.8,512.5 L769.4,512.5 L770.8,512.3 L776.0,512.3 L777.3,512.8 L779.9,512.8 L781.3,512.1 L782.6,511.5 L786.5,511.5 L787.8,511.8 L795.7,511.8 L797.0,512.5"/>
<path d="M108.3,519.4 L109.6,517.5 L110.9,515.6 L112.2,513.9 L113.5,512.3 L114.9,510.9 L116.2,509.5 L117.5,508.1 L118.8,506.7 L120.1,505.2 L121.4,503.8 L122.7,502.4 L124.0,501.1 L125.4,500.1 L126.7,499.3 L128.0,499.3 L129.3,497.8 L130.6,497.0 L131.9,496.0 L133.2,495.1 L134.5,494.4 L135.8,494.4 L137.2,493.4 L138.5,493.4 L139.8,491.3 L141.1,490.1 L142.4,489.3 L146.3,489.3 L147.7,488.3 L149.0,488.3 L150.3,486.9 L151.6,486.1 L152.9,485.4 L156.8,485.4 L158.1,485.7 L159.5,485.7 L160.8,486.6 L162.1,486.6 L163.4,486.3 L164.7,486.3 L166.0,484.6 L167.3,483.8 L168.6,483.0 L170.0,482.3 L171.3,482.3 L172.6,481.3 L173.9,481.3 L175.2,481.6 L181.8,481.6 L183.1,480.8 L184.4,479.9 L185.7,479.1 L187.0,478.4 L189.6,478.4 L190.9,478.5 L193.6,478.5 L194.9,479.5 L200.1,479.5 L201.4,478.9 L202.7,478.4 L205.4,478.4 L206.7,477.2 L208.0,477.2 L209.3,476.3 L211.9,476.3 L213.2,476.6 L214.6,476.6 L215.9,478.3 L217.2,479.3 L218.5,480.2 L219.8,480.9 L223.7,480.9 L225.1,480.3 L226.4,479.5 L227.7,479.5 L229.0,478.0 L230.3,478.0 L231.6,477.5 L238.2,477.5 L239.5,476.3 L246.0,476.3 L247.4,476.8 L252.6,476.8 L253.9,477.6 L255.2,477.6 L256.5,479.2 L257.8,479.7 L259.2,479.7 L260.5,478.7 L261.8,477.3 L263.1,476.2 L265.7,476.2 L267.0,477.5 L268.3,479.0 L269.7,479.9 L271.0,479.9 L272.3,479.5 L273.6,479.5 L274.9,478.1 L277.5,478.1 L278.8,477.2 L280.1,477.2 L281.5,476.1 L282.8,476.1 L284.1,475.3 L288.0,475.3 L289.3,475.8 L290.6,475.8 L292.0,476.8 L295.9,476.8 L297.2,477.8 L299.8,477.8 L301.1,477.0 L302.4,476.1 L303.8,475.2 L309.0,475.2 L310.3,475.6 L312.9,475.6 L314.3,476.7 L316.9,476.7 L318.2,476.4 L326.1,476.4 L327.4,476.5 L330.0,476.5 L331.3,477.5 L336.6,477.5 L337.9,477.3 L340.5,477.3 L341.8,476.2 L343.1,476.2 L344.4,475.2 L345.7,475.2 L347.0,475.9 L348.4,476.5 L349.7,476.5 L351.0,476.3 L352.3,475.2 L353.6,473.8 L354.9,472.7 L356.2,472.2 L357.5,472.2 L358.9,472.9 L360.2,473.8 L361.5,474.6 L364.1,474.6 L365.4,475.5 L366.7,475.5 L368.0,476.5 L369.3,476.5 L370.7,476.3 L372.0,476.3 L373.3,475.3 L374.6,475.3 L375.9,475.6 L387.7,475.6 L389.0,475.4 L394.3,475.4 L395.6,475.7 L402.1,475.7 L403.5,474.6 L404.8,474.2 L408.7,474.2 L410.0,474.9 L411.3,476.3 L412.6,478.1 L413.9,480.0 L415.3,481.9 L416.6,483.5 L417.9,484.9 L419.2,486.0 L420.5,486.9 L421.8,487.6 L424.4,487.6 L425.8,488.8 L427.1,488.8 L428.4,490.3 L429.7,491.3 L431.0,492.4 L432.3,493.6 L433.6,494.7 L434.9,495.6 L436.2,495.6 L437.6,496.9 L440.2,496.9 L441.5,497.8 L442.8,497.8 L444.1,498.9 L445.4,499.5 L446.7,499.5 L448.1,500.7 L450.7,500.7 L452.0,501.9 L453.3,501.9 L454.6,502.7 L455.9,502.7 L457.2,503.8 L458.6,503.8 L459.9,504.9 L461.2,504.9 L462.5,505.6 L465.1,505.6 L466.4,506.8 L467.7,506.8 L469.0,508.2 L470.4,508.8 L471.7,508.8 L473.0,509.7 L476.9,509.7 L478.2,510.6 L484.8,510.6 L486.1,511.5 L490.0,511.5 L491.3,511.5 L496.6,511.5 L497.9,511.6 L499.2,511.6 L500.5,512.5 L503.2,512.5 L504.5,512.3 L512.3,512.3 L513.6,512.5 L515.0,512.5 L516.3,512.4 L521.5,512.4 L522.8,512.7 L525.5,512.7 L526.8,513.5 L528.1,513.5 L529.4,513.5 L530.7,513.7 L532.0,513.7 L533.3,514.6 L537.3,514.6 L538.6,514.3 L539.9,514.3 L541.2,513.5 L547.8,513.5 L549.1,513.5 L553.0,513.5 L554.3,514.5 L555.6,514.4 L563.5,514.4 L564.8,514.6 L567.4,514.6 L568.7,514.3 L575.3,514.3 L576.6,514.9 L577.9,514.9 L579.2,515.6 L591.0,515.6 L592.4,515.2 L593.7,515.2 L595.0,514.3 L600.2,514.3 L601.5,514.5 L604.2,514.5 L605.5,515.8 L616.0,515.8 L617.3,515.0 L618.6,514.3 L619.9,514.3 L621.2,513.4 L622.5,513.4 L623.8,513.7 L625.1,513.7 L626.5,514.5 L630.4,514.5 L631.7,515.6 L633.0,515.6 L634.3,515.4 L635.6,515.4 L637.0,514.5 L647.4,514.5 L648.8,514.7 L650.1,514.7 L651.4,515.8 L661.9,515.8 L663.2,515.4 L665.8,515.4 L667.1,514.1 L671.1,514.1 L672.4,514.7 L682.9,514.7 L684.2,514.4 L686.8,514.4 L688.1,514.6 L690.7,514.6 L692.1,514.4 L699.9,514.4 L701.2,514.6 L711.7,514.6 L713.0,514.4 L717.0,514.4 L718.3,514.6 L732.7,514.6 L734.0,515.7 L736.7,515.7 L738.0,516.5 L739.3,516.4 L749.8,516.4 L751.1,515.2 L755.0,515.2 L756.3,514.4 L759.0,514.4 L760.3,514.5 L765.5,514.5 L766.8,514.2 L770.8,514.2 L772.1,514.6 L773.4,514.6 L774.7,515.6 L778.6,515.6 L779.9,516.6 L782.6,516.6 L783.9,516.4 L785.2,516.4 L786.5,516.7 L789.1,516.7 L790.4,517.6 L791.7,517.5 L794.4,517.5 L795.7,516.2 L797.0,516.0"/>
</g>

<g class="f">
<path d="M108.3,519.4 L109.1,487.2 L109.9,457.5 L110.8,429.9 L111.6,404.4 L112.4,380.9 L113.2,359.0 L114.0,338.8 L114.9,320.1 L115.7,302.8 L116.5,286.8 L117.3,272.0 L118.1,258.3 L119.0,245.6 L119.8,233.8 L120.6,223.0 L121.4,212.9 L122.2,203.6 L123.1,195.0 L123.9,187.0 L124.7,179.7 L125.5,172.8 L126.3,166.5 L127.2,160.7 L128.0,155.3 L128.8,150.2 L129.6,145.6 L130.4,141.3 L131.3,137.4 L132.1,133.7 L132.9,130.3 L133.7,127.1 L134.5,124.2 L135.4,121.5 L136.2,119.0 L137.0,116.7 L137.8,114.6 L138.6,112.6 L139.5,110.8 L140.3,109.1 L141.1,107.5 L141.9,106.1 L142.7,104.8 L143.6,103.5 L144.4,102.4 L145.2,101.3 L146.0,100.3 L146.8,99.4 L147.7,98.6 L148.5,97.8 L149.3,97.1 L150.1,96.4 L150.9,95.8 L151.8,95.2 L152.6,94.7 L153.4,94.2 L154.2,93.7 L155.0,93.3 L155.9,92.9 L156.7,92.6 L157.5,92.2 L158.3,91.9 L159.1,91.6 L160.0,91.4 L160.8,91.1 L161.6,90.9 L162.4,90.7 L163.2,90.5 L164.1,90.3 L164.9,90.2 L165.7,90.0 L166.5,89.9 L167.3,89.7 L168.2,89.6 L169.0,89.5 L169.8,89.4 L170.6,89.3 L171.4,89.2 L172.3,89.1 L173.1,89.1 L173.9,89.0 L177.2,88.8 L180.4,88.6 L183.7,88.5 L187.0,88.4 L190.3,88.3 L193.6,88.3 L196.8,88.2 L200.1,88.2 L203.4,88.2 L206.7,88.2 L210.0,88.1 L213.2,88.1 L216.5,88.1 L219.8,88.1 L223.1,88.1 L226.4,88.1 L229.6,88.1 L232.9,88.1 L236.2,88.1 L239.5,88.1 L242.8,88.1 L246.0,88.1 L249.3,88.1 L252.6,88.1 L255.9,88.1 L259.2,88.1 L262.4,88.1 L265.7,88.1 L269.0,88.1 L272.3,88.1 L275.6,88.1 L278.8,88.1 L282.1,88.1 L285.4,88.1 L288.7,88.1 L292.0,88.1 L295.2,88.1 L298.5,88.1 L301.8,88.1 L305.1,88.1 L308.3,88.1 L311.6,88.1 L314.9,88.1 L318.2,88.1 L321.5,88.1 L324.7,88.1 L328.0,88.1 L331.3,88.1 L334.6,88.1 L337.9,88.1 L341.1,88.1 L344.4,88.1 L347.7,88.1 L351.0,88.1 L354.3,88.1 L357.5,88.1 L360.8,88.1 L364.1,88.1 L367.4,88.1 L370.7,88.1 L373.9,88.1 L377.2,88.1 L380.5,88.1 L383.8,88.1 L387.1,88.1 L390.3,88.1 L393.6,88.1 L396.9,88.1 L400.2,88.1 L402.8,88.1 L403.6,96.9 L404.4,105.4 L405.3,113.8 L406.1,122.1 L406.9,130.1 L407.7,138.0 L408.5,145.8 L409.4,153.4 L410.2,160.8 L411.0,168.1 L411.8,175.2 L412.6,182.2 L413.5,189.0 L414.3,195.7 L415.1,202.3 L415.9,208.7 L416.7,215.0 L417.6,221.2 L418.4,227.3 L419.2,233.2 L420.0,239.0 L420.8,244.7 L421.7,250.3 L422.5,255.7 L423.3,261.1 L424.1,266.3 L424.9,271.4 L425.8,276.5 L426.6,281.4 L427.4,286.2 L428.2,291.0 L429.0,295.6 L429.9,300.1 L430.7,304.6 L431.5,308.9 L432.3,313.2 L433.1,317.4 L434.0,321.5 L434.8,325.5 L435.6,329.4 L436.4,333.3 L437.2,337.1 L438.1,340.8 L438.9,344.4 L439.7,348.0 L440.5,351.4 L441.3,354.8 L442.2,358.2 L443.0,361.5 L443.8,364.7 L444.6,367.8 L445.4,370.9 L446.3,373.9 L447.1,376.8 L447.9,379.7 L448.7,382.6 L449.5,385.3 L450.4,388.1 L451.2,390.7 L452.0,393.3 L452.8,395.9 L453.6,398.4 L454.5,400.9 L455.3,403.3 L456.1,405.6 L456.9,407.9 L457.7,410.2 L458.6,412.4 L459.4,414.6 L460.2,416.7 L461.0,418.8 L461.8,420.8 L462.6,422.8 L463.5,424.8 L464.3,426.7 L465.1,428.6 L465.9,430.4 L466.7,432.2 L467.6,434.0 L468.4,435.7 L469.2,437.4 L470.0,439.1 L470.8,440.7 L471.7,442.3 L472.5,443.9 L473.3,445.4 L474.1,446.9 L474.9,448.4 L475.8,449.8 L476.6,451.2 L477.4,452.6 L478.2,454.0 L479.0,455.3 L479.9,456.6 L480.7,457.9 L481.5,459.1 L482.3,460.4 L483.1,461.6 L484.0,462.7 L484.8,463.9 L485.6,465.0 L486.4,466.1 L487.2,467.2 L488.1,468.2 L488.9,469.3 L489.7,470.3 L490.5,471.3 L491.3,472.3 L492.2,473.2 L493.0,474.2 L493.8,475.1 L494.6,476.0 L495.4,476.9 L496.3,477.7 L497.1,478.6 L497.9,479.4 L498.7,480.2 L499.5,481.0 L500.4,481.8 L501.2,482.6 L502.0,483.3 L502.8,484.0 L503.6,484.8 L504.5,485.5 L505.3,486.1 L506.1,486.8 L506.9,487.5 L507.7,488.1 L508.6,488.8 L509.4,489.4 L510.2,490.0 L511.0,490.6 L511.8,491.2 L512.7,491.7 L513.5,492.3 L514.3,492.9 L515.1,493.4 L515.9,493.9 L516.8,494.4 L517.6,494.9 L518.4,495.4 L519.2,495.9 L520.0,496.4 L520.9,496.9 L521.7,497.3 L522.5,497.8 L523.3,498.2 L524.1,498.6 L525.0,499.1 L525.8,499.5 L526.6,499.9 L527.4,500.3 L528.2,500.7 L529.1,501.0 L529.9,501.4 L530.7,501.8 L531.5,502.1 L532.3,502.5 L533.2,502.8 L534.0,503.2 L534.8,503.5 L535.6,503.8 L536.4,504.1 L537.3,504.4 L538.1,504.8 L538.9,505.0 L539.7,505.3 L540.5,505.6 L541.4,505.9 L542.2,506.2 L543.0,506.4 L543.8,506.7 L544.6,507.0 L545.5,507.2 L546.3,507.5 L547.1,507.7 L547.9,507.9 L548.7,508.2 L549.6,508.4 L550.4,508.6 L551.2,508.8 L552.0,509.1 L552.8,509.3 L553.7,509.5 L554.5,509.7 L555.3,509.9 L556.1,510.1 L556.9,510.3 L557.8,510.4 L558.6,510.6 L559.4,510.8 L560.2,511.0 L561.0,511.1 L561.9,511.3 L562.7,511.5 L563.5,511.6 L564.3,511.8 L565.1,512.0 L566.0,512.1 L566.8,512.3 L567.6,512.4 L568.4,512.5 L569.2,512.7 L570.1,512.8 L570.9,512.9 L571.7,513.1 L572.5,513.2 L573.3,513.3 L574.2,513.5 L575.0,513.6 L575.8,513.7 L576.6,513.8 L577.4,513.9 L578.3,514.0 L579.1,514.1 L579.9,514.3 L580.7,514.4 L581.5,514.5 L582.4,514.6 L583.2,514.7 L584.0,514.8 L584.8,514.8 L585.6,514.9 L586.5,515.0 L587.3,515.1 L588.1,515.2 L588.9,515.3 L589.7,515.4 L590.6,515.5 L591.4,515.5 L592.2,515.6 L593.0,515.7 L593.8,515.8 L594.6,515.8 L595.5,515.9 L596.3,516.0 L597.1,516.1 L597.9,516.1 L598.7,516.2 L599.6,516.3 L600.4,516.3 L601.2,516.4 L602.0,516.4 L602.8,516.5 L603.7,516.6 L604.5,516.6 L605.3,516.7 L606.1,516.7 L606.9,516.8 L607.8,516.8 L608.6,516.9 L609.4,516.9 L610.2,517.0 L611.0,517.0 L611.9,517.1 L612.7,517.1 L613.5,517.2 L614.3,517.2 L615.1,517.3 L616.0,517.3 L616.8,517.4 L617.6,517.4 L618.4,517.4 L619.2,517.5 L620.1,517.5 L620.9,517.6 L621.7,517.6 L622.5,517.6 L623.3,517.7 L624.2,517.7 L625.0,517.7 L625.8,517.8 L626.6,517.8 L627.4,517.8 L628.3,517.9 L629.1,517.9 L629.9,517.9 L630.7,518.0 L631.5,518.0 L632.4,518.0 L633.2,518.0 L634.0,518.1 L634.8,518.1 L635.6,518.1 L636.5,518.1 L637.3,518.2 L638.1,518.2 L638.9,518.2 L639.7,518.2 L640.6,518.3 L641.4,518.3 L642.2,518.3 L643.0,518.3 L643.8,518.4 L644.7,518.4 L645.5,518.4 L646.3,518.4 L647.1,518.4 L647.9,518.5 L648.8,518.5 L649.6,518.5 L650.4,518.5 L651.2,518.5 L652.0,518.6 L652.9,518.6 L653.7,518.6 L654.5,518.6 L655.3,518.6 L656.1,518.6 L657.0,518.7 L657.8,518.7 L658.6,518.7 L659.4,518.7 L660.2,518.7 L661.1,518.7 L661.9,518.7 L662.7,518.8 L663.5,518.8 L664.3,518.8 L665.2,518.8 L666.0,518.8 L666.8,518.8 L667.6,518.8 L668.4,518.8 L669.3,518.8 L670.1,518.9 L670.9,518.9 L671.7,518.9 L672.5,518.9 L673.4,518.9 L674.2,518.9 L675.0,518.9 L675.8,518.9 L676.6,518.9 L677.5,519.0 L678.3,519.0 L679.1,519.0 L679.9,519.0 L680.7,519.0 L681.6,519.0 L682.4,519.0 L683.2,519.0 L684.0,519.0 L684.8,519.0 L685.7,519.0 L686.5,519.0 L687.3,519.0 L688.1,519.1 L688.9,519.1 L689.8,519.1 L690.6,519.1 L691.4,519.1 L692.2,519.1 L693.0,519.1 L693.9,519.1 L694.7,519.1 L695.5,519.1 L696.3,519.1 L697.1,519.1 L698.0,519.1 L698.8,519.1 L699.6,519.1 L700.4,519.1 L701.2,519.2 L702.1,519.2 L702.9,519.2 L703.7,519.2 L704.5,519.2 L705.3,519.2 L706.2,519.2 L707.0,519.2 L707.8,519.2 L708.6,519.2 L709.4,519.2 L710.3,519.2 L711.1,519.2 L711.9,519.2 L712.7,519.2 L713.5,519.2 L714.4,519.2 L715.2,519.2 L716.0,519.2 L716.8,519.2 L717.6,519.2 L718.5,519.2 L719.3,519.2 L720.1,519.2 L720.9,519.2 L721.7,519.3 L722.6,519.3 L723.4,519.3 L724.2,519.3 L725.0,519.3 L725.8,519.3 L726.6,519.3 L727.5,519.3 L728.3,519.3 L729.1,519.3 L729.9,519.3 L730.7,519.3 L731.6,519.3 L732.4,519.3 L733.2,519.3 L734.0,519.3 L734.8,519.3 L735.7,519.3 L736.5,519.3 L737.3,519.3 L738.1,519.3 L738.9,519.3 L739.8,519.3 L740.6,519.3 L741.4,519.3 L742.2,519.3 L743.0,519.3 L743.9,519.3 L744.7,519.3 L745.5,519.3 L746.3,519.3 L747.1,519.3 L748.0,519.3 L748.8,519.3 L749.6,519.3 L750.4,519.3 L751.2,519.3 L752.1,519.3 L752.9,519.3 L753.7,519.3 L754.5,519.3 L755.3,519.3 L756.2,519.3 L757.0,519.3 L757.8,519.3 L758.6,519.3 L759.4,519.3 L760.3,519.3 L761.1,519.3 L761.9,519.3 L762.7,519.3 L763.5,519.3 L764.4,519.3 L765.2,519.3 L766.0,519.4 L766.8,519.4 L767.6,519.4 L768.5,519.4 L769.3,519.4 L770.1,519.4 L770.9,519.4 L771.7,519.4 L772.6,519.4 L773.4,519.4 L774.2,519.4 L775.0,519.4 L775.8,519.4 L776.7,519.4 L777.5,519.4 L778.3,519.4 L779.1,519.4 L779.9,519.4 L780.8,519.4 L781.6,519.4 L782.4,519.4 L783.2,519.4 L784.0,519.4 L784.9,519.4 L785.7,519.4 L786.5,519.4 L787.3,519.4 L788.1,519.4 L789.0,519.4 L789.8,519.4 L790.6,519.4 L791.4,519.4 L792.2,519.4 L793.1,519.4 L793.9,519.4 L794.7,519.4 L795.5,519.4 L796.3,519.4"/>
<path d="M108.3,519.4 L109.1,504.4 L109.9,490.0 L110.8,476.3 L111.6,463.3 L112.4,450.8 L113.2,438.9 L114.0,427.6 L114.9,416.8 L115.7,406.4 L116.5,396.5 L117.3,387.1 L118.1,378.0 L119.0,369.4 L119.8,361.2 L120.6,353.3 L121.4,345.8 L122.2,338.7 L123.1,331.9 L123.9,325.5 L124.7,319.3 L125.5,313.4 L126.3,307.8 L127.2,302.9 L128.0,298.2 L128.8,293.7 L129.6,289.5 L130.4,285.5 L131.3,281.7 L132.1,278.4 L132.9,275.3 L133.7,272.3 L134.5,269.5 L135.4,266.9 L136.2,264.4 L137.0,262.1 L137.8,259.9 L138.6,257.8 L139.5,255.9 L140.3,254.0 L141.1,252.3 L141.9,250.6 L142.7,248.9 L143.6,247.4 L144.4,245.9 L145.2,244.5 L146.0,243.3 L146.8,241.7 L147.7,240.2 L148.5,238.8 L149.3,237.4 L150.1,236.2 L150.9,234.9 L151.8,233.8 L152.6,232.7 L153.4,231.6 L154.2,230.6 L155.0,229.6 L155.9,228.7 L156.7,227.9 L157.5,227.0 L158.3,226.2 L159.1,225.5 L160.0,224.8 L160.8,224.1 L161.6,223.4 L162.4,222.8 L163.2,222.2 L164.1,221.7 L164.9,221.1 L165.7,220.6 L166.5,220.1 L167.3,219.7 L168.2,219.2 L169.0,218.8 L169.8,218.4 L170.6,218.0 L171.4,217.7 L172.3,217.3 L173.1,217.0 L173.9,216.7 L177.2,215.6 L180.4,214.7 L183.7,213.9 L187.0,213.3 L190.3,212.8 L193.6,212.4 L196.8,212.0 L200.1,211.8 L203.4,211.5 L206.7,211.3 L210.0,211.2 L213.2,211.0 L216.5,210.9 L219.8,210.8 L223.1,210.8 L226.4,210.7 L229.6,210.7 L232.9,210.6 L236.2,210.6 L239.5,210.6 L242.8,210.5 L246.0,210.5 L249.3,210.5 L252.6,210.5 L255.9,210.5 L259.2,210.5 L262.4,210.5 L265.7,210.5 L269.0,210.5 L272.3,210.5 L275.6,210.5 L278.8,210.5 L282.1,210.5 L285.4,210.5 L288.7,210.4 L292.0,210.4 L295.2,210.4 L298.5,210.4 L301.8,210.4 L305.1,210.4 L308.3,210.4 L311.6,210.4 L314.9,210.4 L318.2,210.4 L321.5,210.4 L324.7,210.4 L328.0,210.4 L331.3,210.4 L334.6,210.4 L337.9,210.4 L341.1,210.4 L344.4,210.4 L347.7,210.4 L351.0,210.4 L354.3,210.4 L357.5,210.4 L360.8,210.4 L364.1,210.4 L367.4,210.4 L370.7,210.4 L373.9,210.4 L377.2,210.4 L380.5,210.4 L383.8,210.4 L387.1,210.4 L390.3,210.4 L393.6,210.4 L396.9,210.4 L400.2,210.4 L402.8,210.4 L403.6,213.7 L404.4,219.3 L405.3,225.3 L406.1,231.2 L406.9,237.1 L407.7,242.8 L408.5,248.4 L409.4,253.9 L410.2,259.3 L411.0,264.6 L411.8,269.8 L412.6,274.8 L413.5,279.8 L414.3,284.7 L415.1,289.4 L415.9,294.1 L416.7,298.7 L417.6,303.1 L418.4,307.5 L419.2,311.8 L420.0,316.0 L420.8,320.2 L421.7,324.2 L422.5,328.2 L423.3,332.0 L424.1,335.8 L424.9,339.6 L425.8,343.2 L426.6,346.8 L427.4,350.3 L428.2,353.7 L429.0,357.1 L429.9,360.4 L430.7,363.6 L431.5,366.8 L432.3,369.9 L433.1,372.9 L434.0,375.9 L434.8,378.8 L435.6,381.6 L436.4,384.4 L437.2,387.2 L438.1,389.9 L438.9,392.5 L439.7,395.1 L440.5,397.6 L441.3,400.1 L442.2,402.5 L443.0,404.9 L443.8,407.2 L444.6,409.5 L445.4,411.7 L446.3,413.9 L447.1,416.0 L447.9,418.1 L448.7,420.2 L449.5,422.2 L450.4,424.1 L451.2,426.1 L452.0,428.0 L452.8,429.8 L453.6,431.6 L454.5,433.4 L455.3,435.2 L456.1,436.9 L456.9,438.6 L457.7,440.2 L458.6,441.8 L459.4,443.4 L460.2,444.9 L461.0,446.4 L461.8,447.9 L462.6,449.4 L463.5,450.8 L464.3,452.2 L465.1,453.5 L465.9,454.9 L466.7,456.2 L467.6,457.5 L468.4,458.7 L469.2,460.0 L470.0,461.2 L470.8,462.3 L471.7,463.5 L472.5,464.6 L473.3,465.7 L474.1,466.8 L474.9,467.9 L475.8,468.9 L476.6,470.0 L477.4,471.0 L478.2,472.0 L479.0,472.9 L479.9,473.9 L480.7,474.8 L481.5,475.7 L482.3,476.6 L483.1,477.4 L484.0,478.3 L484.8,479.1 L485.6,480.0 L486.4,480.8 L487.2,481.5 L488.1,482.3 L488.9,483.1 L489.7,483.8 L490.5,484.5 L491.3,485.2 L492.2,485.9 L493.0,486.6 L493.8,487.3 L494.6,487.9 L495.4,488.6 L496.3,489.2 L497.1,489.8 L497.9,490.4 L498.7,491.0 L499.5,491.6 L500.4,492.1 L501.2,492.7 L502.0,493.2 L502.8,493.8 L503.6,494.3 L504.5,494.8 L505.3,495.3 L506.1,495.8 L506.9,496.2 L507.7,496.7 L508.6,497.2 L509.4,497.6 L510.2,498.1 L511.0,498.5 L511.8,498.9 L512.7,499.3 L513.5,499.8 L514.3,500.2 L515.1,500.5 L515.9,500.9 L516.8,501.3 L517.6,501.7 L518.4,502.0 L519.2,502.4 L520.0,502.7 L520.9,503.1 L521.7,503.4 L522.5,503.7 L523.3,504.0 L524.1,504.3 L525.0,504.7 L525.8,505.0 L526.6,505.2 L527.4,505.5 L528.2,505.8 L529.1,506.1 L529.9,506.4 L530.7,506.6 L531.5,506.9 L532.3,507.1 L533.2,507.4 L534.0,507.6 L534.8,507.9 L535.6,508.1 L536.4,508.3 L537.3,508.6 L538.1,508.8 L538.9,509.0 L539.7,509.2 L540.5,509.4 L541.4,509.6 L542.2,509.8 L543.0,510.0 L543.8,510.2 L544.6,510.4 L545.5,510.6 L546.3,510.7 L547.1,510.9 L547.9,511.1 L548.7,511.3 L549.6,511.4 L550.4,511.6 L551.2,511.7 L552.0,511.9 L552.8,512.1 L553.7,512.2 L554.5,512.4 L555.3,512.5 L556.1,512.6 L556.9,512.8 L557.8,512.9 L558.6,513.0 L559.4,513.2 L560.2,513.3 L561.0,513.4 L561.9,513.5 L562.7,513.7 L563.5,513.8 L564.3,513.9 L565.1,514.0 L566.0,514.1 L566.8,514.2 L567.6,514.3 L568.4,514.4 L569.2,514.5 L570.1,514.6 L570.9,514.7 L571.7,514.8 L572.5,514.9 L573.3,515.0 L574.2,515.1 L575.0,515.2 L575.8,515.3 L576.6,515.3 L577.4,515.4 L578.3,515.5 L579.1,515.6 L579.9,515.7 L580.7,515.7 L581.5,515.8 L582.4,515.9 L583.2,516.0 L584.0,516.0 L584.8,516.1 L585.6,516.2 L586.5,516.2 L587.3,516.3 L588.1,516.4 L588.9,516.4 L589.7,516.5 L590.6,516.5 L591.4,516.6 L592.2,516.7 L593.0,516.7 L593.8,516.8 L594.6,516.8 L595.5,516.9 L596.3,516.9 L597.1,517.0 L597.9,517.0 L598.7,517.1 L599.6,517.1 L600.4,517.2 L601.2,517.2 L602.0,517.3 L602.8,517.3 L603.7,517.3 L604.5,517.4 L605.3,517.4 L606.1,517.5 L606.9,517.5 L607.8,517.5 L608.6,517.6 L609.4,517.6 L610.2,517.7 L611.0,517.7 L611.9,517.7 L612.7,517.8 L613.5,517.8 L614.3,517.8 L615.1,517.9 L616.0,517.9 L616.8,517.9 L617.6,517.9 L618.4,518.0 L619.2,518.0 L620.1,518.0 L620.9,518.1 L621.7,518.1 L622.5,518.1 L623.3,518.1 L624.2,518.2 L625.0,518.2 L625.8,518.2 L626.6,518.2 L627.4,518.3 L628.3,518.3 L629.1,518.3 L629.9,518.3 L630.7,518.4 L631.5,518.4 L632.4,518.4 L633.2,518.4 L634.0,518.4 L634.8,518.5 L635.6,518.5 L636.5,518.5 L637.3,518.5 L638.1,518.5 L638.9,518.5 L639.7,518.6 L640.6,518.6 L641.4,518.6 L642.2,518.6 L643.0,518.6 L643.8,518.6 L644.7,518.7 L645.5,518.7 L646.3,518.7 L647.1,518.7 L647.9,518.7 L648.8,518.7 L649.6,518.7 L650.4,518.8 L651.2,518.8 L652.0,518.8 L652.9,518.8 L653.7,518.8 L654.5,518.8 L655.3,518.8 L656.1,518.8 L657.0,518.9 L657.8,518.9 L658.6,518.9 L659.4,518.9 L660.2,518.9 L661.1,518.9 L661.9,518.9 L662.7,518.9 L663.5,518.9 L664.3,518.9 L665.2,519.0 L666.0,519.0 L666.8,519.0 L667.6,519.0 L668.4,519.0 L669.3,519.0 L670.1,519.0 L670.9,519.0 L671.7,519.0 L672.5,519.0 L673.4,519.0 L674.2,519.0 L675.0,519.1 L675.8,519.1 L676.6,519.1 L677.5,519.1 L678.3,519.1 L679.1,519.1 L679.9,519.1 L680.7,519.1 L681.6,519.1 L682.4,519.1 L683.2,519.1 L684.0,519.1 L684.8,519.1 L685.7,519.1 L686.5,519.1 L687.3,519.1 L688.1,519.2 L688.9,519.2 L689.8,519.2 L690.6,519.2 L691.4,519.2 L692.2,519.2 L693.0,519.2 L693.9,519.2 L694.7,519.2 L695.5,519.2 L696.3,519.2 L697.1,519.2 L698.0,519.2 L698.8,519.2 L699.6,519.2 L700.4,519.2 L701.2,519.2 L702.1,519.2 L702.9,519.2 L703.7,519.2 L704.5,519.2 L705.3,519.2 L706.2,519.2 L707.0,519.2 L707.8,519.2 L708.6,519.3 L709.4,519.3 L710.3,519.3 L711.1,519.3 L711.9,519.3 L712.7,519.3 L713.5,519.3 L714.4,519.3 L715.2,519.3 L716.0,519.3 L716.8,519.3 L717.6,519.3 L718.5,519.3 L719.3,519.3 L720.1,519.3 L720.9,519.3 L721.7,519.3 L722.6,519.3 L723.4,519.3 L724.2,519.3 L725.0,519.3 L725.8,519.3 L726.6,519.3 L727.5,519.3 L728.3,519.3 L729.1,519.3 L729.9,519.3 L730.7,519.3 L731.6,519.3 L732.4,519.3 L733.2,519.3 L734.0,519.3 L734.8,519.3 L735.7,519.3 L736.5,519.3 L737.3,519.3 L738.1,519.3 L738.9,519.3 L739.8,519.3 L740.6,519.3 L741.4,519.3 L742.2,519.3 L743.0,519.3 L743.9,519.3 L744.7,519.3 L745.5,519.3 L746.3,519.3 L747.1,519.3 L748.0,519.3 L748.8,519.3 L749.6,519.3 L750.4,519.3 L751.2,519.3 L752.1,519.3 L752.9,519.4 L753.7,519.4 L754.5,519.4 L755.3,519.4 L756.2,519.4 L757.0,519.4 L757.8,519.4 L758.6,519.4 L759.4,519.4 L760.3,519.4 L761.1,519.4 L761.9,519.4 L762.7,519.4 L763.5,519.4 L764.4,519.4 L765.2,519.4 L766.0,519.4 L766.8,519.4 L767.6,519.4 L768.5,519.4 L769.3,519.4 L770.1,519.4 L770.9,519.4 L771.7,519.4 L772.6,519.4 L773.4,519.4 L774.2,519.4 L775.0,519.4 L775.8,519.4 L776.7,519.4 L777.5,519.4 L778.3,519.4 L779.1,519.4 L779.9,519.4 L780.8,519.4 L781.6,519.4 L782.4,519.4 L783.2,519.4 L784.0,519.4 L784.9,519.4 L785.7,519.4 L786.5,519.4 L787.3,519.4 L788.1,519.4 L789.0,519.4 L789.8,519.4 L790.6,519.4 L791.4,519.4 L792.2,519.4 L793.1,519.4 L793.9,519.4 L794.7,519.4 L795.5,519.4 L796.3,519.4"/>
<path d="M108.3,519.4 L109.1,511.9 L109.9,504.7 L110.8,497.8 L111.6,491.1 L112.4,484.7 L113.2,478.5 L114.0,472.5 L114.9,466.8 L115.7,461.2 L116.5,455.9 L117.3,450.8 L118.1,445.8 L119.0,441.1 L119.8,436.5 L120.6,432.0 L121.4,427.8 L122.2,423.7 L123.1,419.7 L123.9,415.9 L124.7,412.3 L125.5,408.7 L126.3,405.3 L127.2,402.1 L128.0,398.9 L128.8,395.9 L129.6,392.9 L130.4,390.1 L131.3,387.4 L132.1,384.8 L132.9,382.3 L133.7,379.8 L134.5,377.5 L135.4,375.2 L136.2,373.1 L137.0,371.0 L137.8,369.0 L138.6,367.0 L139.5,365.2 L140.3,363.4 L141.1,361.6 L141.9,360.0 L142.7,358.4 L143.6,356.8 L144.4,355.3 L145.2,353.9 L146.0,352.5 L146.8,351.2 L147.7,349.9 L148.5,348.7 L149.3,347.5 L150.1,346.3 L150.9,345.2 L151.8,344.2 L152.6,343.1 L153.4,342.2 L154.2,341.2 L155.0,340.3 L155.9,339.4 L156.7,338.6 L157.5,337.7 L158.3,337.0 L159.1,336.2 L160.0,335.5 L160.8,334.8 L161.6,334.1 L162.4,333.4 L163.2,332.8 L164.1,332.2 L164.9,331.6 L165.7,331.1 L166.5,330.5 L167.3,330.0 L168.2,329.5 L169.0,329.0 L169.8,328.5 L170.6,328.1 L171.4,327.7 L172.3,327.2 L173.1,326.8 L173.9,326.5 L177.2,325.0 L180.4,323.8 L183.7,322.8 L187.0,321.9 L190.3,321.1 L193.6,320.5 L196.8,319.9 L200.1,319.4 L203.4,319.0 L206.7,318.6 L210.0,318.3 L213.2,318.0 L216.5,317.8 L219.8,317.6 L223.1,317.4 L226.4,317.3 L229.6,317.1 L232.9,317.0 L236.2,316.9 L239.5,316.8 L242.8,316.8 L246.0,316.7 L249.3,316.7 L252.6,316.6 L255.9,316.6 L259.2,316.5 L262.4,316.5 L265.7,316.5 L269.0,316.5 L272.3,316.5 L275.6,316.4 L278.8,316.4 L282.1,316.4 L285.4,316.4 L288.7,316.4 L292.0,316.4 L295.2,316.4 L298.5,316.4 L301.8,316.4 L305.1,316.4 L308.3,316.4 L311.6,316.4 L314.9,316.4 L318.2,316.4 L321.5,316.4 L324.7,316.4 L328.0,316.3 L331.3,316.3 L334.6,316.3 L337.9,316.3 L341.1,316.3 L344.4,316.3 L347.7,316.3 L351.0,316.3 L354.3,316.3 L357.5,316.3 L360.8,316.3 L364.1,316.3 L367.4,316.3 L370.7,316.3 L373.9,316.3 L377.2,316.3 L380.5,316.3 L383.8,316.3 L387.1,316.3 L390.3,316.3 L393.6,316.3 L396.9,316.3 L400.2,316.3 L402.8,316.3 L403.6,317.6 L404.4,320.3 L405.3,323.8 L406.1,327.6 L406.9,331.5 L407.7,335.3 L408.5,339.2 L409.4,342.9 L410.2,346.6 L411.0,350.3 L411.8,353.8 L412.6,357.3 L413.5,360.7 L414.3,364.0 L415.1,367.3 L415.9,370.5 L416.7,373.6 L417.6,376.7 L418.4,379.7 L419.2,382.6 L420.0,385.5 L420.8,388.3 L421.7,391.1 L422.5,393.8 L423.3,396.4 L424.1,399.0 L424.9,401.5 L425.8,404.0 L426.6,406.4 L427.4,408.8 L428.2,411.1 L429.0,413.4 L429.9,415.6 L430.7,417.8 L431.5,420.0 L432.3,422.1 L433.1,424.1 L434.0,426.1 L434.8,428.1 L435.6,430.0 L436.4,431.9 L437.2,433.7 L438.1,435.5 L438.9,437.3 L439.7,439.0 L440.5,440.7 L441.3,442.3 L442.2,444.0 L443.0,445.6 L443.8,447.1 L444.6,448.6 L445.4,450.1 L446.3,451.6 L447.1,453.0 L447.9,454.4 L448.7,455.8 L449.5,457.1 L450.4,458.4 L451.2,459.7 L452.0,460.9 L452.8,462.2 L453.6,463.4 L454.5,464.6 L455.3,465.7 L456.1,466.8 L456.9,467.9 L457.7,469.0 L458.6,470.1 L459.4,471.1 L460.2,472.1 L461.0,473.1 L461.8,474.1 L462.6,475.1 L463.5,476.0 L464.3,476.9 L465.1,477.8 L465.9,478.7 L466.7,479.5 L467.6,480.4 L468.4,481.2 L469.2,482.0 L470.0,482.8 L470.8,483.5 L471.7,484.3 L472.5,485.0 L473.3,485.8 L474.1,486.5 L474.9,487.2 L475.8,487.8 L476.6,488.5 L477.4,489.1 L478.2,489.8 L479.0,490.4 L479.9,491.0 L480.7,491.6 L481.5,492.2 L482.3,492.8 L483.1,493.3 L484.0,493.9 L484.8,494.4 L485.6,494.9 L486.4,495.5 L487.2,496.0 L488.1,496.5 L488.9,496.9 L489.7,497.4 L490.5,497.9 L491.3,498.3 L492.2,498.8 L493.0,499.2 L493.8,499.6 L494.6,500.0 L495.4,500.4 L496.3,500.8 L497.1,501.2 L497.9,501.6 L498.7,502.0 L499.5,502.4 L500.4,502.7 L501.2,503.1 L502.0,503.4 L502.8,503.7 L503.6,504.1 L504.5,504.4 L505.3,504.7 L506.1,505.0 L506.9,505.3 L507.7,505.6 L508.6,505.9 L509.4,506.2 L510.2,506.5 L511.0,506.7 L511.8,507.0 L512.7,507.3 L513.5,507.5 L514.3,507.8 L515.1,508.0 L515.9,508.3 L516.8,508.5 L517.6,508.7 L518.4,508.9 L519.2,509.2 L520.0,509.4 L520.9,509.6 L521.7,509.8 L522.5,510.0 L523.3,510.2 L524.1,510.4 L525.0,510.6 L525.8,510.8 L526.6,510.9 L527.4,511.1 L528.2,511.3 L529.1,511.5 L529.9,511.6 L530.7,511.8 L531.5,512.0 L532.3,512.1 L533.2,512.3 L534.0,512.4 L534.8,512.6 L535.6,512.7 L536.4,512.8 L537.3,513.0 L538.1,513.1 L538.9,513.3 L539.7,513.4 L540.5,513.5 L541.4,513.6 L542.2,513.8 L543.0,513.9 L543.8,514.0 L544.6,514.1 L545.5,514.2 L546.3,514.3 L547.1,514.4 L547.9,514.5 L548.7,514.6 L549.6,514.7 L550.4,514.8 L551.2,514.9 L552.0,515.0 L552.8,515.1 L553.7,515.2 L554.5,515.3 L555.3,515.4 L556.1,515.5 L556.9,515.5 L557.8,515.6 L558.6,515.7 L559.4,515.8 L560.2,515.9 L561.0,515.9 L561.9,516.0 L562.7,516.1 L563.5,516.2 L564.3,516.2 L565.1,516.3 L566.0,516.4 L566.8,516.4 L567.6,516.5 L568.4,516.5 L569.2,516.6 L570.1,516.7 L570.9,516.7 L571.7,516.8 L572.5,516.8 L573.3,516.9 L574.2,516.9 L575.0,517.0 L575.8,517.0 L576.6,517.1 L577.4,517.1 L578.3,517.2 L579.1,517.2 L579.9,517.3 L580.7,517.3 L581.5,517.4 L582.4,517.4 L583.2,517.4 L584.0,517.5 L584.8,517.5 L585.6,517.6 L586.5,517.6 L587.3,517.6 L588.1,517.7 L588.9,517.7 L589.7,517.8 L590.6,517.8 L591.4,517.8 L592.2,517.9 L593.0,517.9 L593.8,517.9 L594.6,518.0 L595.5,518.0 L596.3,518.0 L597.1,518.0 L597.9,518.1 L598.7,518.1 L599.6,518.1 L600.4,518.2 L601.2,518.2 L602.0,518.2 L602.8,518.2 L603.7,518.3 L604.5,518.3 L605.3,518.3 L606.1,518.3 L606.9,518.3 L607.8,518.4 L608.6,518.4 L609.4,518.4 L610.2,518.4 L611.0,518.5 L611.9,518.5 L612.7,518.5 L613.5,518.5 L614.3,518.5 L615.1,518.5 L616.0,518.6 L616.8,518.6 L617.6,518.6 L618.4,518.6 L619.2,518.6 L620.1,518.7 L620.9,518.7 L621.7,518.7 L622.5,518.7 L623.3,518.7 L624.2,518.7 L625.0,518.7 L625.8,518.8 L626.6,518.8 L627.4,518.8 L628.3,518.8 L629.1,518.8 L629.9,518.8 L630.7,518.8 L631.5,518.8 L632.4,518.9 L633.2,518.9 L634.0,518.9 L634.8,518.9 L635.6,518.9 L636.5,518.9 L637.3,518.9 L638.1,518.9 L638.9,518.9 L639.7,518.9 L640.6,519.0 L641.4,519.0 L642.2,519.0 L643.0,519.0 L643.8,519.0 L644.7,519.0 L645.5,519.0 L646.3,519.0 L647.1,519.0 L647.9,519.0 L648.8,519.0 L649.6,519.1 L650.4,519.1 L651.2,519.1 L652.0,519.1 L652.9,519.1 L653.7,519.1 L654.5,519.1 L655.3,519.1 L656.1,519.1 L657.0,519.1 L657.8,519.1 L658.6,519.1 L659.4,519.1 L660.2,519.1 L661.1,519.1 L661.9,519.1 L662.7,519.2 L663.5,519.2 L664.3,519.2 L665.2,519.2 L666.0,519.2 L666.8,519.2 L667.6,519.2 L668.4,519.2 L669.3,519.2 L670.1,519.2 L670.9,519.2 L671.7,519.2 L672.5,519.2 L673.4,519.2 L674.2,519.2 L675.0,519.2 L675.8,519.2 L676.6,519.2 L677.5,519.2 L678.3,519.2 L679.1,519.2 L679.9,519.2 L680.7,519.2 L681.6,519.2 L682.4,519.3 L683.2,519.3 L684.0,519.3 L684.8,519.3 L685.7,519.3 L686.5,519.3 L687.3,519.3 L688.1,519.3 L688.9,519.3 L689.8,519.3 L690.6,519.3 L691.4,519.3 L692.2,519.3 L693.0,519.3 L693.9,519.3 L694.7,519.3 L695.5,519.3 L696.3,519.3 L697.1,519.3 L698.0,519.3 L698.8,519.3 L699.6,519.3 L700.4,519.3 L701.2,519.3 L702.1,519.3 L702.9,519.3 L703.7,519.3 L704.5,519.3 L705.3,519.3 L706.2,519.3 L707.0,519.3 L707.8,519.3 L708.6,519.3 L709.4,519.3 L710.3,519.3 L711.1,519.3 L711.9,519.3 L712.7,519.3 L713.5,519.3 L714.4,519.3 L715.2,519.3 L716.0,519.3 L716.8,519.3 L717.6,519.3 L718.5,519.3 L719.3,519.3 L720.1,519.3 L720.9,519.3 L721.7,519.3 L722.6,519.3 L723.4,519.3 L724.2,519.3 L725.0,519.4 L725.8,519.4 L726.6,519.4 L727.5,519.4 L728.3,519.4 L729.1,519.4 L729.9,519.4 L730.7,519.4 L731.6,519.4 L732.4,519.4 L733.2,519.4 L734.0,519.4 L734.8,519.4 L735.7,519.4 L736.5,519.4 L737.3,519.4 L738.1,519.4 L738.9,519.4 L739.8,519.4 L740.6,519.4 L741.4,519.4 L742.2,519.4 L743.0,519.4 L743.9,519.4 L744.7,519.4 L745.5,519.4 L746.3,519.4 L747.1,519.4 L748.0,519.4 L748.8,519.4 L749.6,519.4 L750.4,519.4 L751.2,519.4 L752.1,519.4 L752.9,519.4 L753.7,519.4 L754.5,519.4 L755.3,519.4 L756.2,519.4 L757.0,519.4 L757.8,519.4 L758.6,519.4 L759.4,519.4 L760.3,519.4 L761.1,519.4 L761.9,519.4 L762.7,519.4 L763.5,519.4 L764.4,519.4 L765.2,519.4 L766.0,519.4 L766.8,519.4 L767.6,519.4 L768.5,519.4 L769.3,519.4 L770.1,519.4 L770.9,519.4 L771.7,519.4 L772.6,519.4 L773.4,519.4 L774.2,519.4 L775.0,519.4 L775.8,519.4 L776.7,519.4 L777.5,519.4 L778.3,519.4 L779.1,519.4 L779.9,519.4 L780.8,519.4 L781.6,519.4 L782.4,519.4 L783.2,519.4 L784.0,519.4 L784.9,519.4 L785.7,519.4 L786.5,519.4 L787.3,519.4 L788.1,519.4 L789.0,519.4 L789.8,519.4 L790.6,519.4 L791.4,519.4 L792.2,519.4 L793.1,519.4 L793.9,519.4 L794.7,519.4 L795.5,519.4 L796.3,519.4"/>
<path d="M108.3,519.4 L109.1,515.4 L109.9,511.5 L110.8,507.7 L111.6,504.0 L112.4,500.4 L113.2,497.0 L114.0,493.6 L114.9,490.4 L115.7,487.2 L116.5,484.2 L117.3,481.2 L118.1,478.3 L119.0,475.5 L119.8,472.8 L120.6,470.2 L121.4,467.7 L122.2,465.2 L123.1,462.8 L123.9,460.5 L124.7,458.2 L125.5,456.0 L126.3,453.9 L127.2,451.8 L128.0,449.8 L128.8,447.9 L129.6,446.0 L130.4,444.2 L131.3,442.4 L132.1,440.7 L132.9,439.1 L133.7,437.5 L134.5,435.9 L135.4,434.4 L136.2,432.9 L137.0,431.5 L137.8,430.1 L138.6,428.8 L139.5,427.5 L140.3,426.2 L141.1,425.0 L141.9,423.8 L142.7,422.6 L143.6,421.5 L144.4,420.4 L145.2,419.4 L146.0,418.3 L146.8,417.4 L147.7,416.4 L148.5,415.5 L149.3,414.6 L150.1,413.7 L150.9,412.8 L151.8,412.0 L152.6,411.2 L153.4,410.4 L154.2,409.7 L155.0,409.0 L155.9,408.2 L156.7,407.6 L157.5,406.9 L158.3,406.3 L159.1,405.6 L160.0,405.0 L160.8,404.4 L161.6,403.9 L162.4,403.3 L163.2,402.8 L164.1,402.2 L164.9,401.7 L165.7,401.2 L166.5,400.8 L167.3,400.3 L168.2,399.9 L169.0,399.4 L169.8,399.0 L170.6,398.6 L171.4,398.2 L172.3,397.8 L173.1,397.4 L173.9,397.1 L177.2,395.7 L180.4,394.6 L183.7,393.5 L187.0,392.6 L190.3,391.7 L193.6,391.0 L196.8,390.4 L200.1,389.8 L203.4,389.3 L206.7,388.8 L210.0,388.5 L213.2,388.1 L216.5,387.8 L219.8,387.5 L223.1,387.3 L226.4,387.1 L229.6,386.9 L232.9,386.7 L236.2,386.6 L239.5,386.4 L242.8,386.3 L246.0,386.2 L249.3,386.1 L252.6,386.0 L255.9,386.0 L259.2,385.9 L262.4,385.8 L265.7,385.8 L269.0,385.7 L272.3,385.7 L275.6,385.7 L278.8,385.6 L282.1,385.6 L285.4,385.6 L288.7,385.6 L292.0,385.5 L295.2,385.5 L298.5,385.5 L301.8,385.5 L305.1,385.5 L308.3,385.5 L311.6,385.5 L314.9,385.5 L318.2,385.5 L321.5,385.4 L324.7,385.4 L328.0,385.4 L331.3,385.4 L334.6,385.4 L337.9,385.4 L341.1,385.4 L344.4,385.4 L347.7,385.4 L351.0,385.4 L354.3,385.4 L357.5,385.4 L360.8,385.4 L364.1,385.4 L367.4,385.4 L370.7,385.4 L373.9,385.4 L377.2,385.4 L380.5,385.4 L383.8,385.4 L387.1,385.4 L390.3,385.4 L393.6,385.4 L396.9,385.4 L400.2,385.4 L402.8,385.4 L403.6,385.8 L404.4,386.8 L405.3,388.3 L406.1,390.2 L406.9,392.3 L407.7,394.6 L408.5,396.9 L409.4,399.4 L410.2,401.9 L411.0,404.3 L411.8,406.8 L412.6,409.3 L413.5,411.7 L414.3,414.1 L415.1,416.4 L415.9,418.8 L416.7,421.0 L417.6,423.2 L418.4,425.4 L419.2,427.5 L420.0,429.6 L420.8,431.7 L421.7,433.6 L422.5,435.6 L423.3,437.5 L424.1,439.4 L424.9,441.2 L425.8,443.0 L426.6,444.7 L427.4,446.4 L428.2,448.1 L429.0,449.7 L429.9,451.3 L430.7,452.8 L431.5,454.3 L432.3,455.8 L433.1,457.2 L434.0,458.7 L434.8,460.0 L435.6,461.4 L436.4,462.7 L437.2,464.0 L438.1,465.3 L438.9,466.5 L439.7,467.7 L440.5,468.9 L441.3,470.0 L442.2,471.1 L443.0,472.2 L443.8,473.3 L444.6,474.4 L445.4,475.4 L446.3,476.4 L447.1,477.4 L447.9,478.3 L448.7,479.3 L449.5,480.2 L450.4,481.1 L451.2,481.9 L452.0,482.8 L452.8,483.6 L453.6,484.4 L454.5,485.2 L455.3,486.0 L456.1,486.8 L456.9,487.5 L457.7,488.2 L458.6,488.9 L459.4,489.6 L460.2,490.3 L461.0,491.0 L461.8,491.6 L462.6,492.2 L463.5,492.9 L464.3,493.5 L465.1,494.1 L465.9,494.6 L466.7,495.2 L467.6,495.7 L468.4,496.3 L469.2,496.8 L470.0,497.3 L470.8,497.8 L471.7,498.3 L472.5,498.8 L473.3,499.3 L474.1,499.7 L474.9,500.2 L475.8,500.6 L476.6,501.0 L477.4,501.4 L478.2,501.9 L479.0,502.3 L479.9,502.6 L480.7,503.0 L481.5,503.4 L482.3,503.8 L483.1,504.1 L484.0,504.5 L484.8,504.8 L485.6,505.1 L486.4,505.5 L487.2,505.8 L488.1,506.1 L488.9,506.4 L489.7,506.7 L490.5,507.0 L491.3,507.3 L492.2,507.5 L493.0,507.8 L493.8,508.1 L494.6,508.3 L495.4,508.6 L496.3,508.8 L497.1,509.1 L497.9,509.3 L498.7,509.5 L499.5,509.8 L500.4,510.0 L501.2,510.2 L502.0,510.4 L502.8,510.6 L503.6,510.8 L504.5,511.0 L505.3,511.2 L506.1,511.4 L506.9,511.6 L507.7,511.7 L508.6,511.9 L509.4,512.1 L510.2,512.2 L511.0,512.4 L511.8,512.6 L512.7,512.7 L513.5,512.9 L514.3,513.0 L515.1,513.2 L515.9,513.3 L516.8,513.4 L517.6,513.6 L518.4,513.7 L519.2,513.8 L520.0,514.0 L520.9,514.1 L521.7,514.2 L522.5,514.3 L523.3,514.4 L524.1,514.6 L525.0,514.7 L525.8,514.8 L526.6,514.9 L527.4,515.0 L528.2,515.1 L529.1,515.2 L529.9,515.3 L530.7,515.4 L531.5,515.5 L532.3,515.6 L533.2,515.6 L534.0,515.7 L534.8,515.8 L535.6,515.9 L536.4,516.0 L537.3,516.1 L538.1,516.1 L538.9,516.2 L539.7,516.3 L540.5,516.3 L541.4,516.4 L542.2,516.5 L543.0,516.5 L543.8,516.6 L544.6,516.7 L545.5,516.7 L546.3,516.8 L547.1,516.9 L547.9,516.9 L548.7,517.0 L549.6,517.0 L550.4,517.1 L551.2,517.1 L552.0,517.2 L552.8,517.2 L553.7,517.3 L554.5,517.3 L555.3,517.4 L556.1,517.4 L556.9,517.5 L557.8,517.5 L558.6,517.6 L559.4,517.6 L560.2,517.6 L561.0,517.7 L561.9,517.7 L562.7,517.8 L563.5,517.8 L564.3,517.8 L565.1,517.9 L566.0,517.9 L566.8,517.9 L567.6,518.0 L568.4,518.0 L569.2,518.0 L570.1,518.1 L570.9,518.1 L571.7,518.1 L572.5,518.2 L573.3,518.2 L574.2,518.2 L575.0,518.2 L575.8,518.3 L576.6,518.3 L577.4,518.3 L578.3,518.3 L579.1,518.4 L579.9,518.4 L580.7,518.4 L581.5,518.4 L582.4,518.5 L583.2,518.5 L584.0,518.5 L584.8,518.5 L585.6,518.5 L586.5,518.6 L587.3,518.6 L588.1,518.6 L588.9,518.6 L589.7,518.6 L590.6,518.6 L591.4,518.7 L592.2,518.7 L593.0,518.7 L593.8,518.7 L594.6,518.7 L595.5,518.7 L596.3,518.8 L597.1,518.8 L597.9,518.8 L598.7,518.8 L599.6,518.8 L600.4,518.8 L601.2,518.8 L602.0,518.9 L602.8,518.9 L603.7,518.9 L604.5,518.9 L605.3,518.9 L606.1,518.9 L606.9,518.9 L607.8,518.9 L608.6,518.9 L609.4,519.0 L610.2,519.0 L611.0,519.0 L611.9,519.0 L612.7,519.0 L613.5,519.0 L614.3,519.0 L615.1,519.0 L616.0,519.0 L616.8,519.0 L617.6,519.0 L618.4,519.1 L619.2,519.1 L620.1,519.1 L620.9,519.1 L621.7,519.1 L622.5,519.1 L623.3,519.1 L624.2,519.1 L625.0,519.1 L625.8,519.1 L626.6,519.1 L627.4,519.1 L628.3,519.1 L629.1,519.1 L629.9,519.2 L630.7,519.2 L631.5,519.2 L632.4,519.2 L633.2,519.2 L634.0,519.2 L634.8,519.2 L635.6,519.2 L636.5,519.2 L637.3,519.2 L638.1,519.2 L638.9,519.2 L639.7,519.2 L640.6,519.2 L641.4,519.2 L642.2,519.2 L643.0,519.2 L643.8,519.2 L644.7,519.2 L645.5,519.2 L646.3,519.2 L647.1,519.2 L647.9,519.2 L648.8,519.3 L649.6,519.3 L650.4,519.3 L651.2,519.3 L652.0,519.3 L652.9,519.3 L653.7,519.3 L654.5,519.3 L655.3,519.3 L656.1,519.3 L657.0,519.3 L657.8,519.3 L658.6,519.3 L659.4,519.3 L660.2,519.3 L661.1,519.3 L661.9,519.3 L662.7,519.3 L663.5,519.3 L664.3,519.3 L665.2,519.3 L666.0,519.3 L666.8,519.3 L667.6,519.3 L668.4,519.3 L669.3,519.3 L670.1,519.3 L670.9,519.3 L671.7,519.3 L672.5,519.3 L673.4,519.3 L674.2,519.3 L675.0,519.3 L675.8,519.3 L676.6,519.3 L677.5,519.3 L678.3,519.3 L679.1,519.3 L679.9,519.3 L680.7,519.3 L681.6,519.3 L682.4,519.3 L683.2,519.3 L684.0,519.3 L684.8,519.3 L685.7,519.3 L686.5,519.3 L687.3,519.4 L688.1,519.4 L688.9,519.4 L689.8,519.4 L690.6,519.4 L691.4,519.4 L692.2,519.4 L693.0,519.4 L693.9,519.4 L694.7,519.4 L695.5,519.4 L696.3,519.4 L697.1,519.4 L698.0,519.4 L698.8,519.4 L699.6,519.4 L700.4,519.4 L701.2,519.4 L702.1,519.4 L702.9,519.4 L703.7,519.4 L704.5,519.4 L705.3,519.4 L706.2,519.4 L707.0,519.4 L707.8,519.4 L708.6,519.4 L709.4,519.4 L710.3,519.4 L711.1,519.4 L711.9,519.4 L712.7,519.4 L713.5,519.4 L714.4,519.4 L715.2,519.4 L716.0,519.4 L716.8,519.4 L717.6,519.4 L718.5,519.4 L719.3,519.4 L720.1,519.4 L720.9,519.4 L721.7,519.4 L722.6,519.4 L723.4,519.4 L724.2,519.4 L725.0,519.4 L725.8,519.4 L726.6,519.4 L727.5,519.4 L728.3,519.4 L729.1,519.4 L729.9,519.4 L730.7,519.4 L731.6,519.4 L732.4,519.4 L733.2,519.4 L734.0,519.4 L734.8,519.4 L735.7,519.4 L736.5,519.4 L737.3,519.4 L738.1,519.4 L738.9,519.4 L739.8,519.4 L740.6,519.4 L741.4,519.4 L742.2,519.4 L743.0,519.4 L743.9,519.4 L744.7,519.4 L745.5,519.4 L746.3,519.4 L747.1,519.4 L748.0,519.4 L748.8,519.4 L749.6,519.4 L750.4,519.4 L751.2,519.4 L752.1,519.4 L752.9,519.4 L753.7,519.4 L754.5,519.4 L755.3,519.4 L756.2,519.4 L757.0,519.4 L757.8,519.4 L758.6,519.4 L759.4,519.4 L760.3,519.4 L761.1,519.4 L761.9,519.4 L762.7,519.4 L763.5,519.4 L764.4,519.4 L765.2,519.4 L766.0,519.4 L766.8,519.4 L767.6,519.4 L768.5,519.4 L769.3,519.4 L770.1,519.4 L770.9,519.4 L771.7,519.4 L772.6,519.4 L773.4,519.4 L774.2,519.4 L775.0,519.4 L775.8,519.4 L776.7,519.4 L777.5,519.4 L778.3,519.4 L779.1,519.4 L779.9,519.4 L780.8,519.4 L781.6,519.4 L782.4,519.4 L783.2,519.4 L784.0,519.4 L784.9,519.4 L785.7,519.4 L786.5,519.4 L787.3,519.4 L788.1,519.4 L789.0,519.4 L789.8,519.4 L790.6,519.4 L791.4,519.4 L792.2,519.4 L793.1,519.4 L793.9,519.4 L794.7,519.4 L795.5,519.4 L796.3,519.4"/>
<path d="M108.3,519.4 L109.1,517.3 L109.9,515.2 L110.8,513.2 L111.6,511.2 L112.4,509.3 L113.2,507.4 L114.0,505.6 L114.9,503.8 L115.7,502.1 L116.5,500.4 L117.3,498.8 L118.1,497.2 L119.0,495.7 L119.8,494.2 L120.6,492.7 L121.4,491.3 L122.2,489.9 L123.1,488.5 L123.9,487.2 L124.7,485.9 L125.5,484.7 L126.3,483.5 L127.2,482.3 L128.0,481.2 L128.8,480.0 L129.6,479.0 L130.4,477.9 L131.3,476.9 L132.1,475.9 L132.9,474.9 L133.7,473.9 L134.5,473.0 L135.4,472.1 L136.2,471.2 L137.0,470.4 L137.8,469.6 L138.6,468.7 L139.5,468.0 L140.3,467.2 L141.1,466.5 L141.9,465.7 L142.7,465.0 L143.6,464.3 L144.4,463.7 L145.2,463.0 L146.0,462.4 L146.8,461.8 L147.7,461.2 L148.5,460.6 L149.3,460.0 L150.1,459.5 L150.9,458.9 L151.8,458.4 L152.6,457.9 L153.4,457.4 L154.2,456.9 L155.0,456.4 L155.9,456.0 L156.7,455.5 L157.5,455.1 L158.3,454.7 L159.1,454.3 L160.0,453.9 L160.8,453.5 L161.6,453.1 L162.4,452.7 L163.2,452.4 L164.1,452.0 L164.9,451.7 L165.7,451.3 L166.5,451.0 L167.3,450.7 L168.2,450.4 L169.0,450.1 L169.8,449.8 L170.6,449.5 L171.4,449.3 L172.3,449.0 L173.1,448.7 L173.9,448.5 L177.2,447.5 L180.4,446.7 L183.7,445.9 L187.0,445.2 L190.3,444.6 L193.6,444.1 L196.8,443.6 L200.1,443.1 L203.4,442.7 L206.7,442.4 L210.0,442.0 L213.2,441.8 L216.5,441.5 L219.8,441.3 L223.1,441.1 L226.4,440.9 L229.6,440.7 L232.9,440.5 L236.2,440.4 L239.5,440.3 L242.8,440.2 L246.0,440.1 L249.3,440.0 L252.6,439.9 L255.9,439.8 L259.2,439.8 L262.4,439.7 L265.7,439.7 L269.0,439.6 L272.3,439.6 L275.6,439.5 L278.8,439.5 L282.1,439.5 L285.4,439.5 L288.7,439.4 L292.0,439.4 L295.2,439.4 L298.5,439.4 L301.8,439.4 L305.1,439.3 L308.3,439.3 L311.6,439.3 L314.9,439.3 L318.2,439.3 L321.5,439.3 L324.7,439.3 L328.0,439.3 L331.3,439.3 L334.6,439.3 L337.9,439.3 L341.1,439.3 L344.4,439.3 L347.7,439.3 L351.0,439.3 L354.3,439.2 L357.5,439.2 L360.8,439.2 L364.1,439.2 L367.4,439.2 L370.7,439.2 L373.9,439.2 L377.2,439.2 L380.5,439.2 L383.8,439.2 L387.1,439.2 L390.3,439.2 L393.6,439.2 L396.9,439.2 L400.2,439.2 L402.8,439.2 L403.6,439.5 L404.4,440.1 L405.3,440.9 L406.1,442.0 L406.9,443.2 L407.7,444.5 L408.5,445.8 L409.4,447.1 L410.2,448.5 L411.0,449.9 L411.8,451.2 L412.6,452.6 L413.5,453.9 L414.3,455.2 L415.1,456.5 L415.9,457.8 L416.7,459.0 L417.6,460.2 L418.4,461.4 L419.2,462.6 L420.0,463.7 L420.8,464.9 L421.7,466.0 L422.5,467.1 L423.3,468.1 L424.1,469.2 L424.9,470.2 L425.8,471.2 L426.6,472.2 L427.4,473.1 L428.2,474.1 L429.0,475.0 L429.9,475.9 L430.7,476.8 L431.5,477.6 L432.3,478.5 L433.1,479.3 L434.0,480.1 L434.8,480.9 L435.6,481.7 L436.4,482.5 L437.2,483.2 L438.1,483.9 L438.9,484.7 L439.7,485.4 L440.5,486.1 L441.3,486.7 L442.2,487.4 L443.0,488.0 L443.8,488.7 L444.6,489.3 L445.4,489.9 L446.3,490.5 L447.1,491.1 L447.9,491.7 L448.7,492.2 L449.5,492.8 L450.4,493.3 L451.2,493.9 L452.0,494.4 L452.8,494.9 L453.6,495.4 L454.5,495.9 L455.3,496.3 L456.1,496.8 L456.9,497.3 L457.7,497.7 L458.6,498.2 L459.4,498.6 L460.2,499.0 L461.0,499.4 L461.8,499.8 L462.6,500.2 L463.5,500.6 L464.3,501.0 L465.1,501.4 L465.9,501.7 L466.7,502.1 L467.6,502.5 L468.4,502.8 L469.2,503.1 L470.0,503.5 L470.8,503.8 L471.7,504.1 L472.5,504.4 L473.3,504.7 L474.1,505.0 L474.9,505.3 L475.8,505.6 L476.6,505.9 L477.4,506.1 L478.2,506.4 L479.0,506.7 L479.9,506.9 L480.7,507.2 L481.5,507.4 L482.3,507.7 L483.1,507.9 L484.0,508.2 L484.8,508.4 L485.6,508.6 L486.4,508.8 L487.2,509.0 L488.1,509.2 L488.9,509.5 L489.7,509.7 L490.5,509.9 L491.3,510.0 L492.2,510.2 L493.0,510.4 L493.8,510.6 L494.6,510.8 L495.4,511.0 L496.3,511.1 L497.1,511.3 L497.9,511.5 L498.7,511.6 L499.5,511.8 L500.4,511.9 L501.2,512.1 L502.0,512.2 L502.8,512.4 L503.6,512.5 L504.5,512.7 L505.3,512.8 L506.1,512.9 L506.9,513.1 L507.7,513.2 L508.6,513.3 L509.4,513.4 L510.2,513.6 L511.0,513.7 L511.8,513.8 L512.7,513.9 L513.5,514.0 L514.3,514.1 L515.1,514.2 L515.9,514.3 L516.8,514.4 L517.6,514.5 L518.4,514.6 L519.2,514.7 L520.0,514.8 L520.9,514.9 L521.7,515.0 L522.5,515.1 L523.3,515.2 L524.1,515.3 L525.0,515.4 L525.8,515.4 L526.6,515.5 L527.4,515.6 L528.2,515.7 L529.1,515.8 L529.9,515.8 L530.7,515.9 L531.5,516.0 L532.3,516.0 L533.2,516.1 L534.0,516.2 L534.8,516.2 L535.6,516.3 L536.4,516.4 L537.3,516.4 L538.1,516.5 L538.9,516.6 L539.7,516.6 L540.5,516.7 L541.4,516.7 L542.2,516.8 L543.0,516.8 L543.8,516.9 L544.6,516.9 L545.5,517.0 L546.3,517.0 L547.1,517.1 L547.9,517.1 L548.7,517.2 L549.6,517.2 L550.4,517.3 L551.2,517.3 L552.0,517.3 L552.8,517.4 L553.7,517.4 L554.5,517.5 L555.3,517.5 L556.1,517.5 L556.9,517.6 L557.8,517.6 L558.6,517.7 L559.4,517.7 L560.2,517.7 L561.0,517.8 L561.9,517.8 L562.7,517.8 L563.5,517.9 L564.3,517.9 L565.1,517.9 L566.0,518.0 L566.8,518.0 L567.6,518.0 L568.4,518.0 L569.2,518.1 L570.1,518.1 L570.9,518.1 L571.7,518.1 L572.5,518.2 L573.3,518.2 L574.2,518.2 L575.0,518.2 L575.8,518.3 L576.6,518.3 L577.4,518.3 L578.3,518.3 L579.1,518.4 L579.9,518.4 L580.7,518.4 L581.5,518.4 L582.4,518.4 L583.2,518.5 L584.0,518.5 L584.8,518.5 L585.6,518.5 L586.5,518.5 L587.3,518.6 L588.1,518.6 L588.9,518.6 L589.7,518.6 L590.6,518.6 L591.4,518.6 L592.2,518.6 L593.0,518.7 L593.8,518.7 L594.6,518.7 L595.5,518.7 L596.3,518.7 L597.1,518.7 L597.9,518.7 L598.7,518.8 L599.6,518.8 L600.4,518.8 L601.2,518.8 L602.0,518.8 L602.8,518.8 L603.7,518.8 L604.5,518.8 L605.3,518.9 L606.1,518.9 L606.9,518.9 L607.8,518.9 L608.6,518.9 L609.4,518.9 L610.2,518.9 L611.0,518.9 L611.9,518.9 L612.7,518.9 L613.5,519.0 L614.3,519.0 L615.1,519.0 L616.0,519.0 L616.8,519.0 L617.6,519.0 L618.4,519.0 L619.2,519.0 L620.1,519.0 L620.9,519.0 L621.7,519.0 L622.5,519.0 L623.3,519.1 L624.2,519.1 L625.0,519.1 L625.8,519.1 L626.6,519.1 L627.4,519.1 L628.3,519.1 L629.1,519.1 L629.9,519.1 L630.7,519.1 L631.5,519.1 L632.4,519.1 L633.2,519.1 L634.0,519.1 L634.8,519.1 L635.6,519.1 L636.5,519.2 L637.3,519.2 L638.1,519.2 L638.9,519.2 L639.7,519.2 L640.6,519.2 L641.4,519.2 L642.2,519.2 L643.0,519.2 L643.8,519.2 L644.7,519.2 L645.5,519.2 L646.3,519.2 L647.1,519.2 L647.9,519.2 L648.8,519.2 L649.6,519.2 L650.4,519.2 L651.2,519.2 L652.0,519.2 L652.9,519.2 L653.7,519.2 L654.5,519.2 L655.3,519.2 L656.1,519.2 L657.0,519.3 L657.8,519.3 L658.6,519.3 L659.4,519.3 L660.2,519.3 L661.1,519.3 L661.9,519.3 L662.7,519.3 L663.5,519.3 L664.3,519.3 L665.2,519.3 L666.0,519.3 L666.8,519.3 L667.6,519.3 L668.4,519.3 L669.3,519.3 L670.1,519.3 L670.9,519.3 L671.7,519.3 L672.5,519.3 L673.4,519.3 L674.2,519.3 L675.0,519.3 L675.8,519.3 L676.6,519.3 L677.5,519.3 L678.3,519.3 L679.1,519.3 L679.9,519.3 L680.7,519.3 L681.6,519.3 L682.4,519.3 L683.2,519.3 L684.0,519.3 L684.8,519.3 L685.7,519.3 L686.5,519.3 L687.3,519.3 L688.1,519.3 L688.9,519.3 L689.8,519.3 L690.6,519.3 L691.4,519.3 L692.2,519.3 L693.0,519.3 L693.9,519.3 L694.7,519.3 L695.5,519.3 L696.3,519.3 L697.1,519.3 L698.0,519.3 L698.8,519.3 L699.6,519.3 L700.4,519.3 L701.2,519.4 L702.1,519.4 L702.9,519.4 L703.7,519.4 L704.5,519.4 L705.3,519.4 L706.2,519.4 L707.0,519.4 L707.8,519.4 L708.6,519.4 L709.4,519.4 L710.3,519.4 L711.1,519.4 L711.9,519.4 L712.7,519.4 L713.5,519.4 L714.4,519.4 L715.2,519.4 L716.0,519.4 L716.8,519.4 L717.6,519.4 L718.5,519.4 L719.3,519.4 L720.1,519.4 L720.9,519.4 L721.7,519.4 L722.6,519.4 L723.4,519.4 L724.2,519.4 L725.0,519.4 L725.8,519.4 L726.6,519.4 L727.5,519.4 L728.3,519.4 L729.1,519.4 L729.9,519.4 L730.7,519.4 L731.6,519.4 L732.4,519.4 L733.2,519.4 L734.0,519.4 L734.8,519.4 L735.7,519.4 L736.5,519.4 L737.3,519.4 L738.1,519.4 L738.9,519.4 L739.8,519.4 L740.6,519.4 L741.4,519.4 L742.2,519.4 L743.0,519.4 L743.9,519.4 L744.7,519.4 L745.5,519.4 L746.3,519.4 L747.1,519.4 L748.0,519.4 L748.8,519.4 L749.6,519.4 L750.4,519.4 L751.2,519.4 L752.1,519.4 L752.9,519.4 L753.7,519.4 L754.5,519.4 L755.3,519.4 L756.2,519.4 L757.0,519.4 L757.8,519.4 L758.6,519.4 L759.4,519.4 L760.3,519.4 L761.1,519.4 L761.9,519.4 L762.7,519.4 L763.5,519.4 L764.4,519.4 L765.2,519.4 L766.0,519.4 L766.8,519.4 L767.6,519.4 L768.5,519.4 L769.3,519.4 L770.1,519.4 L770.9,519.4 L771.7,519.4 L772.6,519.4 L773.4,519.4 L774.2,519.4 L775.0,519.4 L775.8,519.4 L776.7,519.4 L777.5,519.4 L778.3,519.4 L779.1,519.4 L779.9,519.4 L780.8,519.4 L781.6,519.4 L782.4,519.4 L783.2,519.4 L784.0,519.4 L784.9,519.4 L785.7,519.4 L786.5,519.4 L787.3,519.4 L788.1,519.4 L789.0,519.4 L789.8,519.4 L790.6,519.4 L791.4,519.4 L792.2,519.4 L793.1,519.4 L793.9,519.4 L794.7,519.4 L795.5,519.4 L796.3,519.4"/>
<path d="M108.3,519.4 L109.1,518.3 L109.9,517.3 L110.8,516.3 L111.6,515.3 L112.4,514.4 L113.2,513.5 L114.0,512.6 L114.9,511.7 L115.7,510.8 L116.5,510.0 L117.3,509.1 L118.1,508.3 L119.0,507.6 L119.8,506.8 L120.6,506.1 L121.4,505.3 L122.2,504.6 L123.1,503.9 L123.9,503.3 L124.7,502.6 L125.5,502.0 L126.3,501.4 L127.2,500.8 L128.0,500.2 L128.8,499.6 L129.6,499.0 L130.4,498.5 L131.3,497.9 L132.1,497.4 L132.9,496.9 L133.7,496.4 L134.5,495.9 L135.4,495.4 L136.2,495.0 L137.0,494.5 L137.8,494.1 L138.6,493.7 L139.5,493.3 L140.3,492.8 L141.1,492.4 L141.9,492.1 L142.7,491.7 L143.6,491.3 L144.4,491.0 L145.2,490.6 L146.0,490.3 L146.8,489.9 L147.7,489.6 L148.5,489.3 L149.3,489.0 L150.1,488.7 L150.9,488.4 L151.8,488.1 L152.6,487.8 L153.4,487.5 L154.2,487.3 L155.0,487.0 L155.9,486.8 L156.7,486.5 L157.5,486.3 L158.3,486.0 L159.1,485.8 L160.0,485.6 L160.8,485.4 L161.6,485.2 L162.4,484.9 L163.2,484.7 L164.1,484.6 L164.9,484.4 L165.7,484.2 L166.5,484.0 L167.3,483.8 L168.2,483.6 L169.0,483.5 L169.8,483.3 L170.6,483.1 L171.4,483.0 L172.3,482.8 L173.1,482.7 L173.9,482.5 L177.2,482.0 L180.4,481.5 L183.7,481.0 L187.0,480.6 L190.3,480.3 L193.6,479.9 L196.8,479.6 L200.1,479.4 L203.4,479.1 L206.7,478.9 L210.0,478.7 L213.2,478.5 L216.5,478.3 L219.8,478.2 L223.1,478.0 L226.4,477.9 L229.6,477.8 L232.9,477.7 L236.2,477.6 L239.5,477.5 L242.8,477.5 L246.0,477.4 L249.3,477.3 L252.6,477.3 L255.9,477.2 L259.2,477.2 L262.4,477.1 L265.7,477.1 L269.0,477.1 L272.3,477.0 L275.6,477.0 L278.8,477.0 L282.1,477.0 L285.4,477.0 L288.7,476.9 L292.0,476.9 L295.2,476.9 L298.5,476.9 L301.8,476.9 L305.1,476.9 L308.3,476.9 L311.6,476.8 L314.9,476.8 L318.2,476.8 L321.5,476.8 L324.7,476.8 L328.0,476.8 L331.3,476.8 L334.6,476.8 L337.9,476.8 L341.1,476.8 L344.4,476.8 L347.7,476.8 L351.0,476.8 L354.3,476.8 L357.5,476.8 L360.8,476.8 L364.1,476.8 L367.4,476.8 L370.7,476.8 L373.9,476.8 L377.2,476.8 L380.5,476.8 L383.8,476.8 L387.1,476.8 L390.3,476.8 L393.6,476.8 L396.9,476.8 L400.2,476.8 L402.8,476.8 L403.6,476.9 L404.4,477.1 L405.3,477.5 L406.1,478.0 L406.9,478.6 L407.7,479.2 L408.5,479.9 L409.4,480.6 L410.2,481.3 L411.0,482.0 L411.8,482.7 L412.6,483.4 L413.5,484.1 L414.3,484.8 L415.1,485.4 L415.9,486.1 L416.7,486.8 L417.6,487.4 L418.4,488.1 L419.2,488.7 L420.0,489.3 L420.8,489.9 L421.7,490.5 L422.5,491.1 L423.3,491.7 L424.1,492.2 L424.9,492.8 L425.8,493.3 L426.6,493.9 L427.4,494.4 L428.2,494.9 L429.0,495.4 L429.9,495.9 L430.7,496.4 L431.5,496.8 L432.3,497.3 L433.1,497.7 L434.0,498.2 L434.8,498.6 L435.6,499.0 L436.4,499.4 L437.2,499.8 L438.1,500.2 L438.9,500.6 L439.7,501.0 L440.5,501.4 L441.3,501.7 L442.2,502.1 L443.0,502.5 L443.8,502.8 L444.6,503.1 L445.4,503.5 L446.3,503.8 L447.1,504.1 L447.9,504.4 L448.7,504.7 L449.5,505.0 L450.4,505.3 L451.2,505.6 L452.0,505.9 L452.8,506.1 L453.6,506.4 L454.5,506.7 L455.3,506.9 L456.1,507.2 L456.9,507.4 L457.7,507.7 L458.6,507.9 L459.4,508.2 L460.2,508.4 L461.0,508.6 L461.8,508.8 L462.6,509.0 L463.5,509.2 L464.3,509.5 L465.1,509.7 L465.9,509.9 L466.7,510.0 L467.6,510.2 L468.4,510.4 L469.2,510.6 L470.0,510.8 L470.8,511.0 L471.7,511.1 L472.5,511.3 L473.3,511.5 L474.1,511.6 L474.9,511.8 L475.8,511.9 L476.6,512.1 L477.4,512.2 L478.2,512.4 L479.0,512.5 L479.9,512.7 L480.7,512.8 L481.5,512.9 L482.3,513.1 L483.1,513.2 L484.0,513.3 L484.8,513.4 L485.6,513.6 L486.4,513.7 L487.2,513.8 L488.1,513.9 L488.9,514.0 L489.7,514.1 L490.5,514.2 L491.3,514.3 L492.2,514.4 L493.0,514.5 L493.8,514.6 L494.6,514.7 L495.4,514.8 L496.3,514.9 L497.1,515.0 L497.9,515.1 L498.7,515.2 L499.5,515.3 L500.4,515.4 L501.2,515.4 L502.0,515.5 L502.8,515.6 L503.6,515.7 L504.5,515.8 L505.3,515.8 L506.1,515.9 L506.9,516.0 L507.7,516.0 L508.6,516.1 L509.4,516.2 L510.2,516.2 L511.0,516.3 L511.8,516.4 L512.7,516.4 L513.5,516.5 L514.3,516.6 L515.1,516.6 L515.9,516.7 L516.8,516.7 L517.6,516.8 L518.4,516.8 L519.2,516.9 L520.0,516.9 L520.9,517.0 L521.7,517.0 L522.5,517.1 L523.3,517.1 L524.1,517.2 L525.0,517.2 L525.8,517.3 L526.6,517.3 L527.4,517.3 L528.2,517.4 L529.1,517.4 L529.9,517.5 L530.7,517.5 L531.5,517.5 L532.3,517.6 L533.2,517.6 L534.0,517.7 L534.8,517.7 L535.6,517.7 L536.4,517.8 L537.3,517.8 L538.1,517.8 L538.9,517.9 L539.7,517.9 L540.5,517.9 L541.4,518.0 L542.2,518.0 L543.0,518.0 L543.8,518.0 L544.6,518.1 L545.5,518.1 L546.3,518.1 L547.1,518.1 L547.9,518.2 L548.7,518.2 L549.6,518.2 L550.4,518.2 L551.2,518.3 L552.0,518.3 L552.8,518.3 L553.7,518.3 L554.5,518.4 L555.3,518.4 L556.1,518.4 L556.9,518.4 L557.8,518.4 L558.6,518.5 L559.4,518.5 L560.2,518.5 L561.0,518.5 L561.9,518.5 L562.7,518.6 L563.5,518.6 L564.3,518.6 L565.1,518.6 L566.0,518.6 L566.8,518.6 L567.6,518.6 L568.4,518.7 L569.2,518.7 L570.1,518.7 L570.9,518.7 L571.7,518.7 L572.5,518.7 L573.3,518.7 L574.2,518.8 L575.0,518.8 L575.8,518.8 L576.6,518.8 L577.4,518.8 L578.3,518.8 L579.1,518.8 L579.9,518.8 L580.7,518.9 L581.5,518.9 L582.4,518.9 L583.2,518.9 L584.0,518.9 L584.8,518.9 L585.6,518.9 L586.5,518.9 L587.3,518.9 L588.1,518.9 L588.9,519.0 L589.7,519.0 L590.6,519.0 L591.4,519.0 L592.2,519.0 L593.0,519.0 L593.8,519.0 L594.6,519.0 L595.5,519.0 L596.3,519.0 L597.1,519.0 L597.9,519.0 L598.7,519.1 L599.6,519.1 L600.4,519.1 L601.2,519.1 L602.0,519.1 L602.8,519.1 L603.7,519.1 L604.5,519.1 L605.3,519.1 L606.1,519.1 L606.9,519.1 L607.8,519.1 L608.6,519.1 L609.4,519.1 L610.2,519.1 L611.0,519.1 L611.9,519.2 L612.7,519.2 L613.5,519.2 L614.3,519.2 L615.1,519.2 L616.0,519.2 L616.8,519.2 L617.6,519.2 L618.4,519.2 L619.2,519.2 L620.1,519.2 L620.9,519.2 L621.7,519.2 L622.5,519.2 L623.3,519.2 L624.2,519.2 L625.0,519.2 L625.8,519.2 L626.6,519.2 L627.4,519.2 L628.3,519.2 L629.1,519.2 L629.9,519.2 L630.7,519.2 L631.5,519.2 L632.4,519.3 L633.2,519.3 L634.0,519.3 L634.8,519.3 L635.6,519.3 L636.5,519.3 L637.3,519.3 L638.1,519.3 L638.9,519.3 L639.7,519.3 L640.6,519.3 L641.4,519.3 L642.2,519.3 L643.0,519.3 L643.8,519.3 L644.7,519.3 L645.5,519.3 L646.3,519.3 L647.1,519.3 L647.9,519.3 L648.8,519.3 L649.6,519.3 L650.4,519.3 L651.2,519.3 L652.0,519.3 L652.9,519.3 L653.7,519.3 L654.5,519.3 L655.3,519.3 L656.1,519.3 L657.0,519.3 L657.8,519.3 L658.6,519.3 L659.4,519.3 L660.2,519.3 L661.1,519.3 L661.9,519.3 L662.7,519.3 L663.5,519.3 L664.3,519.3 L665.2,519.3 L666.0,519.3 L666.8,519.3 L667.6,519.3 L668.4,519.3 L669.3,519.3 L670.1,519.3 L670.9,519.3 L671.7,519.3 L672.5,519.3 L673.4,519.3 L674.2,519.3 L675.0,519.3 L675.8,519.3 L676.6,519.4 L677.5,519.4 L678.3,519.4 L679.1,519.4 L679.9,519.4 L680.7,519.4 L681.6,519.4 L682.4,519.4 L683.2,519.4 L684.0,519.4 L684.8,519.4 L685.7,519.4 L686.5,519.4 L687.3,519.4 L688.1,519.4 L688.9,519.4 L689.8,519.4 L690.6,519.4 L691.4,519.4 L692.2,519.4 L693.0,519.4 L693.9,519.4 L694.7,519.4 L695.5,519.4 L696.3,519.4 L697.1,519.4 L698.0,519.4 L698.8,519.4 L699.6,519.4 L700.4,519.4 L701.2,519.4 L702.1,519.4 L702.9,519.4 L703.7,519.4 L704.5,519.4 L705.3,519.4 L706.2,519.4 L707.0,519.4 L707.8,519.4 L708.6,519.4 L709.4,519.4 L710.3,519.4 L711.1,519.4 L711.9,519.4 L712.7,519.4 L713.5,519.4 L714.4,519.4 L715.2,519.4 L716.0,519.4 L716.8,519.4 L717.6,519.4 L718.5,519.4 L719.3,519.4 L720.1,519.4 L720.9,519.4 L721.7,519.4 L722.6,519.4 L723.4,519.4 L724.2,519.4 L725.0,519.4 L725.8,519.4 L726.6,519.4 L727.5,519.4 L728.3,519.4 L729.1,519.4 L729.9,519.4 L730.7,519.4 L731.6,519.4 L732.4,519.4 L733.2,519.4 L734.0,519.4 L734.8,519.4 L735.7,519.4 L736.5,519.4 L737.3,519.4 L738.1,519.4 L738.9,519.4 L739.8,519.4 L740.6,519.4 L741.4,519.4 L742.2,519.4 L743.0,519.4 L743.9,519.4 L744.7,519.4 L745.5,519.4 L746.3,519.4 L747.1,519.4 L748.0,519.4 L748.8,519.4 L749.6,519.4 L750.4,519.4 L751.2,519.4 L752.1,519.4 L752.9,519.4 L753.7,519.4 L754.5,519.4 L755.3,519.4 L756.2,519.4 L757.0,519.4 L757.8,519.4 L758.6,519.4 L759.4,519.4 L760.3,519.4 L761.1,519.4 L761.9,519.4 L762.7,519.4 L763.5,519.4 L764.4,519.4 L765.2,519.4 L766.0,519.4 L766.8,519.4 L767.6,519.4 L768.5,519.4 L769.3,519.4 L770.1,519.4 L770.9,519.4 L771.7,519.4 L772.6,519.4 L773.4,519.4 L774.2,519.4 L775.0,519.4 L775.8,519.4 L776.7,519.4 L777.5,519.4 L778.3,519.4 L779.1,519.4 L779.9,519.4 L780.8,519.4 L781.6,519.4 L782.4,519.4 L783.2,519.4 L784.0,519.4 L784.9,519.4 L785.7,519.4 L786.5,519.4 L787.3,519.4 L788.1,519.4 L789.0,519.4 L789.8,519.4 L790.6,519.4 L791.4,519.4 L792.2,519.4 L793.1,519.4 L793.9,519.4 L794.7,519.4 L795.5,519.4 L796.3,519.4"/>
</g>
<g class="dots">
<path d="M109.6,469.1h0 M110.9,424.6h0 M112.2,385.3h0 M113.5,350.6h0 M114.9,320.0h0 M116.2,293.1h0 M117.5,269.5h0 M118.8,248.7h0 M120.1,230.4h0 M121.4,214.4h0 M122.7,202.2h0 M124.0,191.7h0 M125.4,182.7h0 M126.7,174.7h0 M128.0,167.7h0 M129.3,159.7h0 M130.6,151.9h0 M131.9,144.9h0 M133.2,138.7h0 M134.5,133.4h0 M135.8,129.3h0 M137.2,127.0h0 M138.5,125.2h0 M139.8,124.1h0 M141.1,121.7h0 M142.4,119.4h0 M143.7,117.4h0 M145.0,115.4h0 M146.3,113.8h0 M147.7,112.6h0 M151.6,110.9h0 M152.9,109.6h0 M154.2,107.8h0 M155.5,105.7h0 M156.8,103.3h0 M158.1,101.3h0 M159.5,99.7h0 M160.8,98.7h0 M163.4,98.9h0 M164.7,99.8h0 M166.0,100.6h0 M170.0,98.8h0 M171.3,96.8h0 M172.6,94.9h0 M173.9,93.2h0 M175.2,91.8h0 M185.7,91.9h0 M187.0,91.0h0 M188.3,90.2h0 M208.0,86.4h0 M232.9,86.2h0 M234.2,85.4h0 M235.5,84.4h0 M236.9,83.2h0 M238.2,82.4h0 M255.2,81.4h0 M257.8,82.8h0 M259.2,84.3h0 M260.5,86.1h0 M261.8,88.1h0 M263.1,89.6h0 M264.4,88.8h0 M265.7,87.2h0 M267.0,85.3h0 M268.3,83.4h0 M269.7,81.7h0 M271.0,80.6h0 M276.2,82.0h0 M277.5,83.0h0 M289.3,81.1h0 M294.6,78.9h0 M295.9,77.8h0 M297.2,76.9h0 M301.1,77.8h0 M309.0,81.1h0 M315.6,80.2h0 M349.7,83.2h0 M351.0,81.7h0 M352.3,80.4h0 M357.5,77.6h0 M358.9,76.6h0 M360.2,75.8h0 M366.7,76.2h0 M368.0,77.3h0 M369.3,78.3h0 M370.7,79.2h0 M373.3,78.5h0 M374.6,77.0h0 M375.9,75.7h0 M377.2,74.9h0 M382.5,76.4h0 M383.8,77.3h0 M391.6,78.4h0 M393.0,77.1h0 M394.3,75.9h0 M398.2,76.2h0 M399.5,77.4h0 M400.8,78.3h0 M415.3,240.2h0 M416.6,252.9h0"/>
<path d="M109.6,495.1h0 M110.9,472.5h0 M112.2,451.4h0 M113.5,431.7h0 M114.9,413.5h0 M116.2,396.8h0 M117.5,381.4h0 M118.8,367.2h0 M120.1,354.1h0 M121.4,341.9h0 M122.7,331.0h0 M124.0,320.8h0 M125.4,311.3h0 M126.7,302.5h0 M128.0,294.9h0 M129.3,288.2h0 M130.6,282.0h0 M131.9,276.8h0 M133.2,272.4h0 M134.5,268.5h0 M135.8,264.6h0 M137.2,260.9h0 M138.5,257.2h0 M139.8,253.8h0 M141.1,250.5h0 M142.4,247.3h0 M143.7,244.6h0 M145.0,242.3h0 M146.3,240.4h0 M147.7,238.4h0 M149.0,237.2h0 M150.3,236.4h0 M155.5,234.0h0 M156.8,232.3h0 M158.1,230.6h0 M159.5,229.0h0 M160.8,227.5h0 M162.1,226.1h0 M163.4,224.7h0 M164.7,223.0h0 M166.0,221.6h0 M167.3,220.5h0 M185.7,219.9h0 M187.0,218.7h0 M188.3,217.5h0 M196.2,216.4h0 M197.5,215.3h0 M198.8,214.5h0 M221.1,215.4h0 M222.4,216.3h0 M231.6,214.8h0 M232.9,213.8h0 M234.2,213.0h0 M235.5,212.2h0 M243.4,209.3h0 M248.7,210.2h0 M250.0,212.0h0 M251.3,213.7h0 M252.6,215.3h0 M253.9,216.6h0 M256.5,215.7h0 M257.8,214.3h0 M278.8,213.2h0 M280.1,214.2h0 M281.5,215.1h0 M285.4,214.4h0 M286.7,212.8h0 M288.0,211.0h0 M289.3,209.5h0 M311.6,209.8h0 M312.9,207.9h0 M314.3,205.9h0 M315.6,205.2h0 M318.2,207.0h0 M319.5,208.6h0 M320.8,210.1h0 M322.1,211.1h0 M345.7,206.4h0 M347.0,208.1h0 M348.4,209.2h0 M349.7,208.2h0 M351.0,207.3h0 M354.9,204.9h0 M389.0,201.2h0 M390.3,200.4h0"/>
<path d="M109.6,505.7h0 M110.9,492.7h0 M112.2,480.4h0 M113.5,468.8h0 M114.9,457.7h0 M116.2,447.0h0 M117.5,436.7h0 M118.8,427.6h0 M120.1,419.9h0 M121.4,412.8h0 M122.7,406.3h0 M124.0,400.5h0 M125.4,395.4h0 M126.7,390.8h0 M128.0,386.4h0 M129.3,382.1h0 M130.6,377.8h0 M131.9,374.3h0 M133.2,371.6h0 M134.5,369.2h0 M135.8,366.8h0 M137.2,364.3h0 M138.5,362.0h0 M139.8,360.3h0 M141.1,359.1h0 M142.4,358.3h0 M145.0,355.9h0 M146.3,353.5h0 M147.7,350.8h0 M149.0,348.1h0 M150.3,345.6h0 M151.6,343.6h0 M152.9,341.8h0 M154.2,340.1h0 M155.5,338.3h0 M156.8,336.7h0 M158.1,335.2h0 M159.5,333.9h0 M160.8,332.6h0 M162.1,331.3h0 M163.4,330.1h0 M164.7,329.1h0 M173.9,326.7h0 M175.2,325.9h0 M180.4,326.7h0 M184.4,325.4h0 M185.7,323.9h0 M187.0,322.7h0 M209.3,319.6h0 M210.6,318.5h0 M211.9,317.7h0 M251.3,316.1h0 M257.8,316.8h0 M259.2,317.5h0 M263.1,316.8h0 M264.4,315.9h0 M295.9,313.6h0 M297.2,312.7h0 M301.1,314.7h0 M302.4,316.8h0 M303.8,318.6h0 M307.7,318.2h0 M309.0,317.4h0 M322.1,313.7h0 M323.4,312.4h0 M324.7,311.1h0 M330.0,312.8h0 M331.3,314.3h0 M332.6,315.4h0 M336.6,314.2h0 M344.4,314.7h0 M345.7,315.7h0 M347.0,316.9h0 M348.4,318.2h0 M349.7,319.1h0 M352.3,318.4h0 M353.6,317.3h0 M386.4,312.1h0 M387.7,313.2h0"/>
<path d="M109.6,512.1h0 M110.9,505.3h0 M112.2,498.8h0 M113.5,492.7h0 M114.9,486.9h0 M116.2,481.3h0 M117.5,475.6h0 M118.8,470.3h0 M120.1,465.3h0 M121.4,460.7h0 M122.7,456.3h0 M124.0,452.3h0 M125.4,448.6h0 M126.7,445.1h0 M128.0,441.8h0 M129.3,439.0h0 M130.6,436.3h0 M131.9,433.7h0 M133.2,431.4h0 M134.5,429.3h0 M135.8,427.0h0 M137.2,424.5h0 M138.5,422.2h0 M139.8,420.0h0 M141.1,418.2h0 M142.4,416.4h0 M143.7,414.8h0 M145.0,413.4h0 M146.3,412.4h0 M149.0,410.9h0 M150.3,409.9h0 M151.6,408.4h0 M152.9,406.8h0 M154.2,405.3h0 M155.5,404.3h0 M171.3,399.9h0 M172.6,398.9h0 M173.9,397.8h0 M175.2,396.9h0 M181.8,394.2h0 M183.1,393.4h0 M200.1,390.7h0 M201.4,391.7h0 M205.4,391.2h0 M206.7,390.2h0 M215.9,389.4h0 M232.9,386.1h0 M234.2,387.0h0 M303.8,384.3h0 M319.5,384.5h0 M320.8,385.5h0 M330.0,385.1h0 M331.3,384.1h0 M335.2,385.7h0 M336.6,386.6h0 M341.8,384.5h0 M343.1,383.7h0 M356.2,382.9h0 M357.5,384.2h0 M358.9,385.5h0 M362.8,385.2h0 M364.1,384.2h0 M365.4,383.3h0 M366.7,382.4h0 M394.3,382.7h0"/>
<path d="M109.6,515.6h0 M110.9,511.8h0 M112.2,508.2h0 M113.5,504.7h0 M114.9,501.5h0 M116.2,498.6h0 M117.5,495.9h0 M118.8,493.5h0 M120.1,490.9h0 M121.4,488.2h0 M122.7,485.5h0 M124.0,483.1h0 M125.4,481.1h0 M126.7,479.5h0 M128.0,478.0h0 M129.3,476.7h0 M130.6,475.2h0 M131.9,473.5h0 M133.2,471.6h0 M134.5,469.7h0 M135.8,468.0h0 M137.2,466.4h0 M138.5,464.9h0 M139.8,463.7h0 M141.1,463.0h0 M147.7,460.5h0 M149.0,458.8h0 M150.3,457.1h0 M151.6,455.6h0 M152.9,454.5h0 M162.1,451.1h0 M163.4,450.4h0 M171.3,449.1h0 M172.6,448.2h0 M173.9,447.4h0 M188.3,446.0h0 M189.6,445.2h0 M201.4,442.4h0 M202.7,441.2h0 M204.1,440.0h0 M205.4,439.0h0 M213.2,440.2h0 M214.6,441.3h0 M215.9,442.1h0 M222.4,440.1h0 M223.7,439.2h0 M230.3,439.3h0 M231.6,440.3h0 M235.5,440.1h0 M236.9,438.9h0 M238.2,437.7h0 M243.4,438.7h0 M293.3,438.9h0 M294.6,440.0h0 M295.9,440.9h0 M344.4,437.7h0 M351.0,439.2h0 M358.9,438.4h0 M378.5,440.2h0 M379.8,441.0h0 M381.2,441.8h0 M386.4,441.3h0 M387.7,440.2h0 M389.0,438.9h0 M390.3,437.7h0 M391.6,436.7h0"/>
<path d="M109.6,517.5h0 M110.9,515.6h0 M112.2,513.9h0 M113.5,512.3h0 M114.9,510.9h0 M116.2,509.5h0 M117.5,508.1h0 M118.8,506.7h0 M120.1,505.2h0 M121.4,503.8h0 M122.7,502.4h0 M124.0,501.1h0 M125.4,500.1h0 M126.7,499.3h0 M130.6,497.0h0 M131.9,496.0h0 M133.2,495.1h0 M139.8,491.3h0 M141.1,490.1h0 M142.4,489.3h0 M150.3,486.9h0 M151.6,486.1h0 M166.0,484.6h0 M167.3,483.8h0 M168.6,483.0h0 M183.1,480.8h0 M184.4,479.9h0 M185.7,479.1h0 M215.9,478.3h0 M217.2,479.3h0 M218.5,480.2h0 M226.4,479.5h0 M256.5,479.2h0 M260.5,478.7h0 M261.8,477.3h0 M263.1,476.2h0 M267.0,477.5h0 M268.3,479.0h0 M269.7,479.9h0 M302.4,476.1h0 M303.8,475.2h0 M352.3,475.2h0 M353.6,473.8h0 M354.9,472.7h0 M360.2,473.8h0 M361.5,474.6h0"/>
</g>
<line x1="402.7" y1="30.8" x2="402.7" y2="520" stroke="#e00010" stroke-width="3" stroke-dasharray="20.5 21.05"/>
<g fill="#da8514">
<rect x="104" y="32" width="3.8" height="9.5"/>
<rect x="104" y="511" width="3.8" height="10.4"/>
<rect x="108" y="522.8" width="10" height="3.4"/>
<rect x="856" y="522.8" width="10" height="3.4"/>
</g>
</svg>
</body></html>
